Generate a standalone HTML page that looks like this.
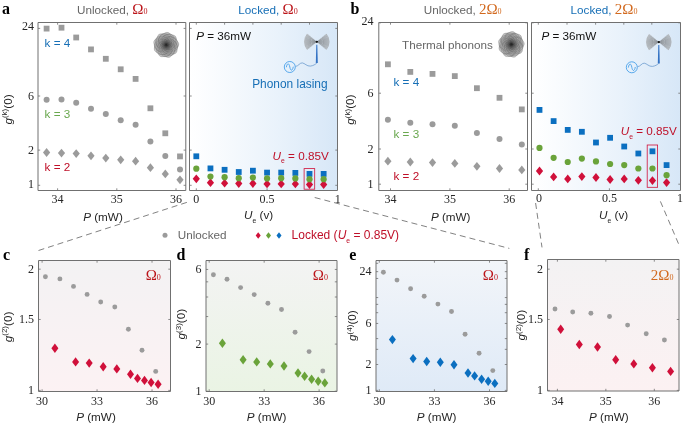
<!DOCTYPE html>
<html><head><meta charset="utf-8"><style>
html,body{margin:0;padding:0;background:#fff;width:685px;height:426px;overflow:hidden}
svg{display:block;will-change:transform}
</style></head><body>
<svg width="685" height="426" viewBox="0 0 685 426">
<defs>
<linearGradient id="gL" x1="0" y1="0" x2="1" y2="0"><stop offset="0" stop-color="#ffffff"/><stop offset="0.15" stop-color="#fafcfe"/><stop offset="0.6" stop-color="#e9f2fb"/><stop offset="1" stop-color="#d7e7f7"/></linearGradient>
<linearGradient id="gC" x1="0" y1="0" x2="0" y2="1"><stop offset="0" stop-color="#f3f2f3"/><stop offset="1" stop-color="#fcf2f3"/></linearGradient>
<linearGradient id="gD" x1="0" y1="0" x2="0" y2="1"><stop offset="0" stop-color="#f3f3f3"/><stop offset="1" stop-color="#eaf4e4"/></linearGradient>
<linearGradient id="gE" x1="0" y1="0" x2="0" y2="1"><stop offset="0" stop-color="#f2f5f9"/><stop offset="1" stop-color="#dfeaf7"/></linearGradient>
<linearGradient id="gF" x1="0" y1="0" x2="0" y2="1"><stop offset="0" stop-color="#f3f2f3"/><stop offset="1" stop-color="#fcf1f2"/></linearGradient>
</defs>
<rect width="685" height="426" fill="#fff"/>
<line x1="38.5" y1="250.5" x2="188" y2="202" stroke="#6a6a6a" stroke-width="0.85" stroke-dasharray="6,4"/>
<line x1="314.7" y1="197.5" x2="509.3" y2="248.4" stroke="#6a6a6a" stroke-width="0.85" stroke-dasharray="6,4"/>
<line x1="535.6" y1="203" x2="542" y2="247.4" stroke="#6a6a6a" stroke-width="0.85" stroke-dasharray="6,4"/>
<line x1="660.4" y1="201.4" x2="679.4" y2="245.8" stroke="#6a6a6a" stroke-width="0.85" stroke-dasharray="6,4"/>
<path d="M38.0 22.5H185.8V190.5H38.0Z" fill="none" stroke="#707070" stroke-width="1"/>
<path d="M38.0 185.30h2.2M185.8 185.30h-2.2" stroke="#707070" stroke-width="0.8"/>
<path d="M38.0 150.10h2.2M185.8 150.10h-2.2" stroke="#707070" stroke-width="0.8"/>
<path d="M38.0 96.00h2.2M185.8 96.00h-2.2" stroke="#707070" stroke-width="0.8"/>
<path d="M38.0 28.40h2.2M185.8 28.40h-2.2" stroke="#707070" stroke-width="0.8"/>
<path d="M57.60 190.5v-2.2" stroke="#707070" stroke-width="0.8"/>
<path d="M116.80 190.5v-2.2" stroke="#707070" stroke-width="0.8"/>
<path d="M176.00 190.5v-2.2" stroke="#707070" stroke-width="0.8"/>
<path d="M57.60 22.5v2.2" stroke="#707070" stroke-width="0.8"/>
<path d="M116.80 22.5v2.2" stroke="#707070" stroke-width="0.8"/>
<path d="M176.00 22.5v2.2" stroke="#707070" stroke-width="0.8"/>
<radialGradient id="th166" cx="0.5" cy="0.5" r="0.5"><stop offset="0" stop-color="#2a2a2a"/><stop offset="0.2" stop-color="#606060"/><stop offset="0.5" stop-color="#9a9a9a"/><stop offset="0.85" stop-color="#b4b4b4"/><stop offset="1" stop-color="#d0d0d0"/></radialGradient>
<polygon points="179.06,45.00 178.85,45.84 178.49,46.63 178.08,47.38 177.73,48.12 177.47,48.86 177.32,49.65 177.23,50.49 177.09,51.35 176.84,52.18 176.41,52.91 175.81,53.51 175.07,53.97 174.28,54.32 173.49,54.63 172.77,54.99 172.12,55.43 171.51,55.96 170.88,56.55 170.21,57.10 169.46,57.52 168.63,57.74 167.78,57.74 166.92,57.57 166.10,57.31 165.31,57.06 164.53,56.90 163.74,56.85 162.91,56.89 162.05,56.93 161.18,56.88 160.35,56.65 159.62,56.22 159.00,55.62 158.49,54.91 158.04,54.19 157.59,53.51 157.07,52.92 156.46,52.40 155.78,51.89 155.11,51.35 154.51,50.71 154.09,49.97 153.87,49.15 153.84,48.28 153.94,47.42 154.06,46.59 154.12,45.79 154.06,45.00 153.90,44.20 153.70,43.37 153.56,42.51 153.58,41.64 153.80,40.82 154.23,40.08 154.80,39.43 155.44,38.85 156.05,38.29 156.58,37.69 157.01,37.03 157.39,36.29 157.79,35.53 158.27,34.80 158.88,34.20 159.62,33.78 160.45,33.54 161.32,33.45 162.17,33.43 162.98,33.37 163.76,33.22 164.51,32.95 165.29,32.62 166.10,32.31 166.94,32.11 167.80,32.11 168.62,32.33 169.38,32.74 170.09,33.26 170.75,33.78 171.41,34.23 172.12,34.57 172.89,34.84 173.71,35.08 174.53,35.39 175.27,35.83 175.87,36.44 176.30,37.18 176.57,38.00 176.76,38.85 176.94,39.66 177.19,40.41 177.54,41.11 177.99,41.81 178.46,42.54 178.85,43.32 179.06,44.15 179.06,45.00" fill="url(#th166)"/>
<polygon points="166.94,45.00 166.94,45.07 166.91,45.14 166.87,45.21 166.82,45.26 166.80,45.32 166.78,45.39 166.77,45.47 166.75,45.54 166.70,45.60 166.63,45.63 166.55,45.65 166.49,45.67 166.42,45.70 166.37,45.74 166.31,45.79 166.25,45.83 166.17,45.84 166.10,45.82 166.03,45.79 165.97,45.76 165.90,45.74 165.83,45.74 165.75,45.74 165.68,45.73 165.62,45.69 165.57,45.63 165.54,45.56 165.51,45.50 165.47,45.44 165.42,45.39 165.36,45.35 165.31,45.29 165.28,45.22 165.29,45.14 165.31,45.07 165.33,45.00 165.33,44.93 165.32,44.86 165.31,44.79 165.31,44.71 165.33,44.64 165.39,44.59 165.45,44.55 165.51,44.50 165.56,44.46 165.59,44.40 165.63,44.33 165.68,44.27 165.74,44.23 165.82,44.23 165.89,44.23 165.97,44.24 166.03,44.23 166.10,44.21 166.17,44.18 166.25,44.17 166.32,44.18 166.38,44.23 166.44,44.28 166.49,44.33 166.54,44.37 166.61,44.40 166.68,44.42 166.75,44.46 166.79,44.52 166.81,44.59 166.82,44.66 166.82,44.74 166.84,44.80 166.88,44.86 166.92,44.93 166.94,45.00" fill="none" stroke="#222" stroke-opacity="0.4" stroke-width="0.4"/>
<polygon points="167.66,45.00 167.63,45.13 167.63,45.27 167.65,45.41 167.66,45.57 167.63,45.72 167.55,45.84 167.43,45.93 167.30,46.01 167.18,46.08 167.10,46.19 167.02,46.31 166.93,46.44 166.82,46.53 166.67,46.58 166.52,46.57 166.37,46.54 166.23,46.53 166.10,46.55 165.96,46.60 165.81,46.64 165.66,46.64 165.53,46.58 165.41,46.47 165.32,46.35 165.22,46.26 165.10,46.19 164.97,46.13 164.83,46.07 164.71,45.97 164.65,45.84 164.63,45.69 164.63,45.54 164.62,45.40 164.57,45.27 164.50,45.14 164.44,45.00 164.41,44.85 164.45,44.71 164.53,44.58 164.63,44.46 164.71,44.35 164.76,44.23 164.79,44.08 164.83,43.93 164.90,43.80 165.02,43.72 165.17,43.67 165.32,43.65 165.45,43.61 165.57,43.54 165.69,43.45 165.81,43.36 165.95,43.31 166.10,43.32 166.24,43.38 166.37,43.46 166.50,43.52 166.63,43.54 166.78,43.55 166.93,43.56 167.07,43.61 167.18,43.72 167.25,43.85 167.30,43.99 167.36,44.12 167.44,44.23 167.55,44.32 167.66,44.43 167.74,44.56 167.75,44.71 167.72,44.86 167.66,45.00" fill="none" stroke="#222" stroke-opacity="0.4" stroke-width="0.4"/>
<polygon points="168.57,45.00 168.47,45.21 168.38,45.40 168.33,45.60 168.32,45.81 168.33,46.04 168.29,46.26 168.18,46.45 167.99,46.59 167.78,46.68 167.59,46.77 167.42,46.89 167.28,47.05 167.14,47.23 166.96,47.38 166.76,47.45 166.53,47.43 166.31,47.37 166.10,47.31 165.90,47.30 165.69,47.33 165.46,47.37 165.24,47.38 165.03,47.30 164.86,47.14 164.73,46.95 164.61,46.77 164.47,46.63 164.29,46.52 164.09,46.41 163.91,46.26 163.80,46.07 163.78,45.85 163.80,45.62 163.82,45.40 163.80,45.20 163.73,45.00 163.65,44.79 163.61,44.56 163.65,44.34 163.78,44.15 163.94,43.99 164.10,43.84 164.21,43.68 164.29,43.48 164.36,43.26 164.47,43.06 164.65,42.92 164.86,42.86 165.09,42.84 165.31,42.83 165.50,42.77 165.69,42.67 165.89,42.55 166.10,42.47 166.32,42.48 166.53,42.57 166.72,42.70 166.89,42.83 167.07,42.91 167.28,42.95 167.51,42.99 167.73,43.06 167.89,43.21 167.99,43.41 168.05,43.63 168.10,43.84 168.19,44.03 168.32,44.19 168.47,44.36 168.59,44.56 168.62,44.78 168.57,45.00" fill="none" stroke="#222" stroke-opacity="0.4" stroke-width="0.4"/>
<polygon points="169.47,45.00 169.36,45.29 169.20,45.55 169.07,45.80 169.00,46.05 168.98,46.34 168.96,46.65 168.87,46.94 168.68,47.17 168.42,47.32 168.13,47.41 167.86,47.52 167.64,47.67 167.44,47.88 167.23,48.10 166.97,48.26 166.68,48.32 166.39,48.26 166.10,48.15 165.83,48.06 165.56,48.04 165.28,48.07 164.97,48.10 164.67,48.06 164.42,47.92 164.22,47.68 164.07,47.41 163.93,47.17 163.74,46.98 163.50,46.82 163.24,46.65 163.04,46.43 162.93,46.15 162.94,45.85 163.00,45.55 163.04,45.27 163.02,45.00 162.93,44.72 162.85,44.43 162.84,44.13 162.93,43.85 163.13,43.62 163.37,43.42 163.58,43.24 163.74,43.02 163.85,42.75 163.98,42.47 164.16,42.23 164.42,42.08 164.72,42.03 165.02,42.04 165.30,42.03 165.56,41.96 165.82,41.83 166.10,41.70 166.39,41.63 166.68,41.68 166.95,41.84 167.18,42.04 167.40,42.22 167.64,42.33 167.92,42.40 168.22,42.47 168.49,42.61 168.68,42.83 168.78,43.12 168.83,43.42 168.88,43.70 169.00,43.95 169.17,44.18 169.35,44.43 169.47,44.71 169.47,45.00" fill="none" stroke="#222" stroke-opacity="0.4" stroke-width="0.4"/>
<polygon points="170.18,45.00 170.29,45.37 170.26,45.73 170.10,46.07 169.85,46.36 169.60,46.63 169.42,46.92 169.31,47.25 169.22,47.62 169.07,47.97 168.82,48.24 168.47,48.39 168.09,48.45 167.73,48.50 167.41,48.60 167.12,48.79 166.81,49.01 166.47,49.19 166.10,49.23 165.74,49.12 165.41,48.93 165.10,48.73 164.79,48.60 164.44,48.56 164.06,48.53 163.69,48.44 163.38,48.24 163.17,47.93 163.04,47.56 162.94,47.22 162.78,46.92 162.54,46.66 162.27,46.39 162.04,46.09 161.94,45.73 161.98,45.36 162.11,45.00 162.25,44.66 162.32,44.33 162.31,43.98 162.27,43.61 162.29,43.22 162.44,42.89 162.71,42.63 163.04,42.44 163.37,42.27 163.63,42.06 163.85,41.79 164.06,41.47 164.32,41.19 164.65,41.03 165.03,41.00 165.41,41.07 165.76,41.15 166.10,41.16 166.44,41.09 166.81,40.99 167.19,40.94 167.55,41.03 167.85,41.25 168.09,41.55 168.32,41.84 168.57,42.06 168.87,42.23 169.22,42.38 169.54,42.59 169.76,42.89 169.85,43.25 169.85,43.64 169.83,44.00 169.88,44.33 170.01,44.66 170.18,45.00" fill="none" stroke="#222" stroke-opacity="0.4" stroke-width="0.4"/>
<polygon points="170.70,45.00 170.74,45.41 170.86,45.84 170.93,46.29 170.87,46.74 170.65,47.12 170.30,47.42 169.93,47.68 169.62,47.95 169.40,48.30 169.20,48.70 168.97,49.10 168.64,49.40 168.22,49.55 167.76,49.56 167.31,49.52 166.90,49.53 166.51,49.64 166.10,49.83 165.66,49.98 165.22,50.00 164.80,49.85 164.44,49.56 164.12,49.24 163.80,48.98 163.43,48.82 163.00,48.70 162.56,48.54 162.21,48.27 161.99,47.88 161.90,47.42 161.86,46.98 161.78,46.57 161.60,46.21 161.34,45.84 161.12,45.44 161.02,45.00 161.10,44.56 161.32,44.16 161.58,43.79 161.78,43.43 161.88,43.03 161.92,42.59 162.00,42.13 162.21,41.73 162.55,41.45 162.98,41.29 163.42,41.17 163.80,41.02 164.13,40.78 164.45,40.46 164.81,40.17 165.22,40.00 165.66,40.00 166.10,40.15 166.51,40.34 166.90,40.47 167.31,40.50 167.75,40.46 168.21,40.47 168.64,40.60 168.98,40.89 169.22,41.29 169.41,41.69 169.62,42.05 169.92,42.33 170.28,42.59 170.63,42.89 170.87,43.26 170.95,43.70 170.88,44.16 170.76,44.59 170.70,45.00" fill="none" stroke="#222" stroke-opacity="0.4" stroke-width="0.4"/>
<polygon points="171.64,45.00 171.84,45.50 171.92,46.03 171.80,46.53 171.50,46.97 171.11,47.34 170.76,47.69 170.51,48.09 170.35,48.56 170.17,49.07 169.90,49.53 169.49,49.84 168.97,49.98 168.44,50.01 167.94,50.06 167.49,50.20 167.06,50.46 166.60,50.74 166.10,50.91 165.59,50.88 165.10,50.66 164.67,50.34 164.26,50.06 163.82,49.88 163.33,49.80 162.80,49.72 162.30,49.53 161.93,49.17 161.70,48.69 161.57,48.17 161.44,47.69 161.22,47.28 160.89,46.90 160.54,46.49 160.28,46.03 160.22,45.51 160.35,45.00 160.59,44.52 160.80,44.07 160.90,43.61 160.89,43.10 160.88,42.57 160.98,42.05 161.26,41.61 161.70,41.31 162.19,41.09 162.64,40.88 163.01,40.59 163.33,40.20 163.67,39.78 164.08,39.45 164.57,39.30 165.10,39.34 165.62,39.49 166.10,39.62 166.57,39.63 167.06,39.54 167.59,39.44 168.12,39.45 168.59,39.65 168.97,40.02 169.27,40.47 169.56,40.88 169.91,41.19 170.35,41.44 170.82,41.70 171.22,42.05 171.45,42.51 171.50,43.03 171.44,43.57 171.40,44.07 171.47,44.53 171.64,45.00" fill="none" stroke="#222" stroke-opacity="0.4" stroke-width="0.4"/>
<polygon points="172.86,45.00 172.69,45.58 172.38,46.11 172.06,46.60 171.87,47.10 171.80,47.66 171.76,48.27 171.61,48.86 171.28,49.35 170.78,49.68 170.20,49.88 169.64,50.06 169.17,50.32 168.76,50.70 168.33,51.14 167.84,51.50 167.27,51.66 166.68,51.59 166.10,51.37 165.56,51.15 165.03,51.05 164.47,51.07 163.87,51.14 163.26,51.10 162.72,50.86 162.31,50.42 162.00,49.88 161.73,49.37 161.40,48.95 160.95,48.61 160.44,48.27 160.00,47.84 159.74,47.31 159.71,46.71 159.82,46.11 159.95,45.54 159.96,45.00 159.84,44.45 159.67,43.87 159.60,43.26 159.74,42.69 160.10,42.20 160.58,41.81 161.04,41.46 161.40,41.05 161.65,40.55 161.90,40.00 162.24,39.49 162.72,39.14 163.30,39.00 163.92,39.01 164.50,39.04 165.03,38.95 165.55,38.74 166.10,38.47 166.69,38.30 167.27,38.34 167.81,38.61 168.28,39.01 168.71,39.40 169.17,39.68 169.71,39.85 170.30,40.00 170.86,40.24 171.28,40.65 171.52,41.21 171.62,41.81 171.70,42.39 171.87,42.90 172.17,43.37 172.53,43.87 172.80,44.41 172.86,45.00" fill="none" stroke="#222" stroke-opacity="0.4" stroke-width="0.4"/>
<polygon points="173.01,45.00 173.17,45.62 173.36,46.28 173.42,46.96 173.24,47.60 172.83,48.14 172.29,48.57 171.78,48.98 171.40,49.44 171.12,50.02 170.84,50.65 170.45,51.21 169.90,51.58 169.24,51.73 168.54,51.71 167.89,51.70 167.30,51.81 166.72,52.07 166.10,52.37 165.44,52.55 164.78,52.49 164.18,52.17 163.66,51.71 163.17,51.28 162.64,50.99 162.03,50.81 161.36,50.65 160.74,50.36 160.28,49.89 160.02,49.26 159.91,48.57 159.82,47.93 159.60,47.36 159.25,46.84 158.84,46.28 158.55,45.66 158.50,45.00 158.71,44.35 159.06,43.76 159.40,43.21 159.60,42.64 159.67,42.00 159.72,41.31 159.89,40.65 160.28,40.11 160.85,39.75 161.51,39.53 162.12,39.32 162.64,39.01 163.10,38.57 163.58,38.07 164.14,37.68 164.78,37.51 165.45,37.61 166.10,37.86 166.70,38.09 167.30,38.19 167.94,38.15 168.62,38.07 169.30,38.13 169.90,38.42 170.36,38.92 170.69,39.53 171.00,40.10 171.40,40.56 171.91,40.93 172.48,41.31 172.97,41.80 173.24,42.40 173.27,43.08 173.14,43.76 173.01,44.40 173.01,45.00" fill="none" stroke="#222" stroke-opacity="0.4" stroke-width="0.4"/>
<polygon points="174.00,45.00 174.28,45.72 174.41,46.46 174.25,47.18 173.83,47.81 173.28,48.35 172.76,48.85 172.40,49.41 172.15,50.08 171.91,50.81 171.52,51.46 170.94,51.91 170.21,52.12 169.45,52.18 168.73,52.23 168.09,52.43 167.47,52.78 166.82,53.18 166.10,53.43 165.36,53.41 164.67,53.10 164.05,52.65 163.47,52.23 162.85,51.97 162.15,51.84 161.39,51.73 160.68,51.46 160.13,50.97 159.80,50.29 159.61,49.54 159.44,48.85 159.13,48.25 158.67,47.70 158.17,47.13 157.79,46.46 157.69,45.74 157.87,45.00 158.21,44.31 158.52,43.66 158.67,43.01 158.67,42.30 158.66,41.53 158.80,40.78 159.19,40.16 159.80,39.71 160.50,39.40 161.15,39.11 161.69,38.70 162.15,38.16 162.63,37.56 163.22,37.07 163.92,36.85 164.67,36.90 165.41,37.11 166.10,37.31 166.77,37.34 167.47,37.22 168.23,37.07 168.98,37.07 169.67,37.35 170.21,37.88 170.64,38.51 171.05,39.11 171.54,39.56 172.15,39.92 172.83,40.29 173.40,40.78 173.75,41.43 173.83,42.19 173.75,42.95 173.68,43.66 173.76,44.33 174.00,45.00" fill="none" stroke="#222" stroke-opacity="0.4" stroke-width="0.4"/>
<polygon points="174.53,45.00 174.60,45.74 174.80,46.53 174.94,47.37 174.85,48.19 174.45,48.89 173.82,49.46 173.14,49.93 172.56,50.42 172.13,51.03 171.78,51.76 171.35,52.50 170.76,53.06 169.99,53.35 169.15,53.38 168.32,53.30 167.56,53.30 166.84,53.50 166.10,53.83 165.30,54.12 164.48,54.17 163.72,53.90 163.05,53.38 162.47,52.78 161.89,52.30 161.21,51.99 160.42,51.76 159.63,51.47 158.97,50.99 158.55,50.28 158.38,49.46 158.32,48.63 158.18,47.88 157.86,47.21 157.40,46.53 156.98,45.80 156.79,45.00 156.92,44.20 157.32,43.45 157.80,42.78 158.18,42.12 158.37,41.40 158.45,40.59 158.60,39.75 158.97,39.01 159.59,38.49 160.37,38.17 161.17,37.96 161.89,37.70 162.50,37.27 163.08,36.70 163.73,36.16 164.48,35.83 165.30,35.82 166.10,36.09 166.85,36.44 167.56,36.70 168.31,36.76 169.12,36.70 169.97,36.70 170.76,36.94 171.38,37.45 171.83,38.17 172.17,38.93 172.56,39.58 173.09,40.11 173.75,40.59 174.40,41.13 174.85,41.81 175.00,42.62 174.88,43.45 174.66,44.25 174.53,45.00" fill="none" stroke="#222" stroke-opacity="0.4" stroke-width="0.4"/>
<polygon points="175.78,45.00 175.40,45.81 175.15,46.60 175.12,47.42 175.19,48.31 175.18,49.23 174.90,50.08 174.31,50.75 173.52,51.22 172.70,51.60 172.01,52.04 171.45,52.65 170.94,53.38 170.33,54.08 169.58,54.55 168.69,54.68 167.78,54.53 166.91,54.30 166.10,54.19 165.29,54.30 164.42,54.53 163.51,54.68 162.62,54.55 161.86,54.08 161.26,53.38 160.74,52.65 160.19,52.04 159.50,51.60 158.69,51.22 157.89,50.75 157.30,50.08 157.02,49.24 157.00,48.31 157.08,47.42 157.05,46.60 156.80,45.81 156.43,45.00 156.12,44.13 156.09,43.24 156.42,42.41 157.00,41.69 157.64,41.05 158.14,40.40 158.45,39.65 158.69,38.78 159.02,37.92 159.57,37.22 160.35,36.79 161.26,36.62 162.15,36.54 162.96,36.36 163.68,35.98 164.42,35.47 165.23,35.02 166.10,34.84 166.97,35.02 167.78,35.47 168.52,35.98 169.24,36.36 170.04,36.54 170.94,36.62 171.85,36.79 172.63,37.22 173.19,37.91 173.52,38.78 173.75,39.64 174.06,40.40 174.56,41.06 175.19,41.69 175.78,42.41 176.11,43.24 176.08,44.13 175.78,45.00" fill="none" stroke="#222" stroke-opacity="0.4" stroke-width="0.4"/>
<polygon points="176.88,45.00 177.06,45.96 176.85,46.90 176.32,47.74 175.67,48.48 175.13,49.21 174.81,50.03 174.61,50.96 174.36,51.93 173.88,52.78 173.12,53.36 172.17,53.67 171.19,53.82 170.31,54.03 169.54,54.45 168.79,55.04 167.97,55.62 167.06,55.96 166.10,55.92 165.18,55.54 164.33,55.03 163.52,54.63 162.66,54.45 161.71,54.42 160.71,54.34 159.79,54.01 159.08,53.36 158.62,52.48 158.30,51.55 157.93,50.72 157.39,50.03 156.68,49.39 155.97,48.69 155.48,47.85 155.35,46.90 155.56,45.92 155.91,45.00 156.17,44.13 156.20,43.25 156.06,42.31 155.97,41.31 156.13,40.35 156.65,39.54 157.43,38.93 158.30,38.45 159.05,37.95 159.64,37.30 160.14,36.49 160.71,35.66 161.45,35.03 162.37,34.74 163.36,34.78 164.33,34.97 165.23,35.07 166.10,34.95 167.01,34.65 167.97,34.38 168.95,34.38 169.83,34.74 170.57,35.41 171.19,36.18 171.82,36.83 172.56,37.30 173.45,37.65 174.36,38.07 175.11,38.69 175.55,39.54 175.69,40.53 175.67,41.52 175.73,42.42 176.00,43.25 176.45,44.09 176.88,45.00" fill="none" stroke="#222" stroke-opacity="0.4" stroke-width="0.4"/>
<polygon points="176.87,45.00 177.13,45.97 177.43,47.00 177.51,48.06 177.20,49.04 176.53,49.86 175.69,50.54 174.92,51.18 174.35,51.92 173.93,52.83 173.50,53.81 172.88,54.68 172.01,55.23 170.96,55.43 169.89,55.41 168.89,55.40 167.97,55.61 167.07,56.03 166.10,56.51 165.07,56.77 164.05,56.63 163.12,56.11 162.31,55.41 161.55,54.76 160.72,54.33 159.75,54.07 158.70,53.81 157.75,53.35 157.05,52.59 156.68,51.60 156.51,50.54 156.34,49.55 155.98,48.68 155.40,47.87 154.77,47.00 154.33,46.03 154.29,45.00 154.64,44.00 155.19,43.08 155.70,42.21 155.98,41.32 156.06,40.32 156.13,39.25 156.42,38.22 157.05,37.41 157.96,36.86 158.98,36.52 159.92,36.18 160.72,35.67 161.42,34.96 162.16,34.19 163.04,33.59 164.05,33.37 165.10,33.54 166.10,33.93 167.04,34.27 167.97,34.39 168.97,34.30 170.04,34.19 171.09,34.29 172.01,34.77 172.70,35.58 173.22,36.52 173.71,37.39 174.35,38.08 175.17,38.65 176.07,39.25 176.81,40.01 177.20,40.96 177.21,42.02 177.01,43.08 176.83,44.06 176.87,45.00" fill="none" stroke="#222" stroke-opacity="0.4" stroke-width="0.4"/>
<polygon points="178.59,45.00 178.11,46.05 177.56,47.02 177.20,47.97 177.09,49.00 177.10,50.13 176.97,51.28 176.50,52.28 175.67,53.03 174.62,53.52 173.58,53.92 172.69,54.41 171.95,55.13 171.23,56.00 170.39,56.80 169.39,57.27 168.27,57.30 167.15,57.01 166.10,56.64 165.10,56.45 164.07,56.52 162.96,56.73 161.81,56.80 160.73,56.51 159.85,55.82 159.19,54.87 158.62,53.92 157.97,53.13 157.14,52.52 156.16,51.96 155.23,51.28 154.59,50.37 154.36,49.27 154.46,48.12 154.64,47.02 154.65,46.00 154.40,45.00 154.01,43.94 153.74,42.82 153.83,41.71 154.36,40.73 155.18,39.91 156.02,39.18 156.69,38.41 157.14,37.48 157.52,36.42 158.03,35.38 158.82,34.60 159.85,34.18 161.01,34.08 162.12,34.06 163.13,33.90 164.07,33.48 165.04,32.91 166.10,32.45 167.21,32.35 168.27,32.70 169.22,33.36 170.08,34.06 170.96,34.58 171.95,34.87 173.06,35.06 174.17,35.38 175.08,36.02 175.67,36.97 175.97,38.09 176.18,39.18 176.52,40.14 177.09,41.00 177.83,41.86 178.46,42.82 178.75,43.89 178.59,45.00" fill="none" stroke="#222" stroke-opacity="0.4" stroke-width="0.4"/>
<rect x="43.70" y="25.70" width="5.8" height="5.8" fill="#9b9b9b"/>
<rect x="58.60" y="24.80" width="5.8" height="5.8" fill="#9b9b9b"/>
<rect x="73.30" y="34.60" width="5.8" height="5.8" fill="#9b9b9b"/>
<rect x="88.10" y="46.50" width="5.8" height="5.8" fill="#9b9b9b"/>
<rect x="102.90" y="55.90" width="5.8" height="5.8" fill="#9b9b9b"/>
<rect x="117.80" y="66.40" width="5.8" height="5.8" fill="#9b9b9b"/>
<rect x="132.70" y="76.00" width="5.8" height="5.8" fill="#9b9b9b"/>
<rect x="147.50" y="105.40" width="5.8" height="5.8" fill="#9b9b9b"/>
<rect x="162.40" y="130.40" width="5.8" height="5.8" fill="#9b9b9b"/>
<rect x="177.10" y="153.50" width="5.8" height="5.8" fill="#9b9b9b"/>
<circle cx="46.60" cy="99.70" r="3.0" fill="#9b9b9b"/>
<circle cx="61.50" cy="99.40" r="3.0" fill="#9b9b9b"/>
<circle cx="76.20" cy="102.70" r="3.0" fill="#9b9b9b"/>
<circle cx="91.00" cy="108.70" r="3.0" fill="#9b9b9b"/>
<circle cx="105.80" cy="114.10" r="3.0" fill="#9b9b9b"/>
<circle cx="120.70" cy="120.30" r="3.0" fill="#9b9b9b"/>
<circle cx="135.60" cy="124.80" r="3.0" fill="#9b9b9b"/>
<circle cx="150.40" cy="141.40" r="3.0" fill="#9b9b9b"/>
<circle cx="165.30" cy="156.10" r="3.0" fill="#9b9b9b"/>
<circle cx="180.00" cy="169.60" r="3.0" fill="#9b9b9b"/>
<path d="M46.60 148.10L50.20 152.50L46.60 156.90L43.00 152.50Z" fill="#9b9b9b"/>
<path d="M61.50 148.70L65.10 153.10L61.50 157.50L57.90 153.10Z" fill="#9b9b9b"/>
<path d="M76.20 149.20L79.80 153.60L76.20 158.00L72.60 153.60Z" fill="#9b9b9b"/>
<path d="M91.00 151.40L94.60 155.80L91.00 160.20L87.40 155.80Z" fill="#9b9b9b"/>
<path d="M105.80 153.70L109.40 158.10L105.80 162.50L102.20 158.10Z" fill="#9b9b9b"/>
<path d="M120.70 155.40L124.30 159.80L120.70 164.20L117.10 159.80Z" fill="#9b9b9b"/>
<path d="M135.60 156.80L139.20 161.20L135.60 165.60L132.00 161.20Z" fill="#9b9b9b"/>
<path d="M150.40 163.30L154.00 167.70L150.40 172.10L146.80 167.70Z" fill="#9b9b9b"/>
<path d="M165.30 169.50L168.90 173.90L165.30 178.30L161.70 173.90Z" fill="#9b9b9b"/>
<path d="M180.00 175.40L183.60 179.80L180.00 184.20L176.40 179.80Z" fill="#9b9b9b"/>
<text x="44.6" y="47" font-family='"Liberation Sans", sans-serif' font-size="11.7" fill="#176fb6" text-anchor="start" >k = 4</text>
<text x="44.6" y="117.5" font-family='"Liberation Sans", sans-serif' font-size="11.7" fill="#6aa84f" text-anchor="start" >k = 3</text>
<text x="44.6" y="171.3" font-family='"Liberation Sans", sans-serif' font-size="11.7" fill="#bf1029" text-anchor="start" >k = 2</text>
<text x="34" y="187.75" font-family='"Liberation Serif", serif' font-size="12" fill="#262626" text-anchor="end" >1</text>
<text x="34" y="153.64999999999998" font-family='"Liberation Serif", serif' font-size="12" fill="#262626" text-anchor="end" >2</text>
<text x="34" y="99.85000000000001" font-family='"Liberation Serif", serif' font-size="12" fill="#262626" text-anchor="end" >6</text>
<text x="34" y="30.45" font-family='"Liberation Serif", serif' font-size="12" fill="#262626" text-anchor="end" >24</text>
<text x="57.6" y="202.7" font-family='"Liberation Serif", serif' font-size="12" fill="#262626" text-anchor="middle" >34</text>
<text x="116.8" y="202.7" font-family='"Liberation Serif", serif' font-size="12" fill="#262626" text-anchor="middle" >35</text>
<text x="176.0" y="202.7" font-family='"Liberation Serif", serif' font-size="12" fill="#262626" text-anchor="middle" >36</text>
<text x="103" y="220.8" font-family='"Liberation Sans", sans-serif' font-size="11.7" fill="#262626" text-anchor="middle" ><tspan font-style="italic">P</tspan> (mW)</text>
<text transform="translate(11.6 109.5) rotate(-90)" font-family='"Liberation Sans", sans-serif' font-size="11.7" fill="#262626" text-anchor="middle"><tspan font-style="italic">g</tspan><tspan font-size="8" dy="-4.2">(k)</tspan><tspan dy="4.2">(0)</tspan></text>
<text x="2" y="14" font-family='"Liberation Serif", serif' font-size="16" fill="#000" text-anchor="start" font-weight="bold">a</text>
<text x="77" y="13.8" font-family='"Liberation Sans", sans-serif' font-size="11.7" fill="#666666" text-anchor="start">Unlocked, <tspan font-family='"Liberation Serif", serif' fill="#bb1419" font-size="15">Ω</tspan><tspan font-family='"Liberation Serif", serif' fill="#bb1419" font-size="8">0</tspan></text>
<rect x="189.5" y="22.5" width="148.0" height="168.0" fill="url(#gL)"/>
<path d="M189.5 22.5H337.5V190.5H189.5Z" fill="none" stroke="#707070" stroke-width="1"/>
<path d="M189.5 185.30h2.2M337.5 185.30h-2.2" stroke="#707070" stroke-width="0.8"/>
<path d="M189.5 150.10h2.2M337.5 150.10h-2.2" stroke="#707070" stroke-width="0.8"/>
<path d="M189.5 96.00h2.2M337.5 96.00h-2.2" stroke="#707070" stroke-width="0.8"/>
<path d="M189.5 28.40h2.2M337.5 28.40h-2.2" stroke="#707070" stroke-width="0.8"/>
<path d="M196.30 190.5v-2.2" stroke="#707070" stroke-width="0.8"/>
<path d="M267.05 190.5v-2.2" stroke="#707070" stroke-width="0.8"/>
<path d="M196.30 22.5v2.2" stroke="#707070" stroke-width="0.8"/>
<path d="M224.60 22.5v2.2" stroke="#707070" stroke-width="0.8"/>
<path d="M252.90 22.5v2.2" stroke="#707070" stroke-width="0.8"/>
<path d="M281.20 22.5v2.2" stroke="#707070" stroke-width="0.8"/>
<path d="M309.50 22.5v2.2" stroke="#707070" stroke-width="0.8"/>
<radialGradient id="bw316" gradientUnits="userSpaceOnUse" cx="316.8" cy="41.8" r="13"><stop offset="0" stop-color="#333"/><stop offset="0.3" stop-color="#888"/><stop offset="0.7" stop-color="#b0b0b0"/><stop offset="1" stop-color="#d0d0d0"/></radialGradient>
<path d="M316.8 41.8L306.92 33.51A12.9 12.9 0 0 0 306.92 50.09Z" fill="url(#bw316)" fill-opacity="0.45"/>
<path d="M315.11 40.39A2.20 2.20 0 0 0 315.11 43.21" fill="none" stroke="#3a3a3a" stroke-opacity="0.55" stroke-width="0.42"/>
<path d="M314.35 39.74A3.20 3.20 0 0 0 314.35 43.86" fill="none" stroke="#3a3a3a" stroke-opacity="0.55" stroke-width="0.42"/>
<path d="M313.58 39.10A4.20 4.20 0 0 0 313.58 44.50" fill="none" stroke="#3a3a3a" stroke-opacity="0.55" stroke-width="0.42"/>
<path d="M312.82 38.46A5.20 5.20 0 0 0 312.82 45.14" fill="none" stroke="#3a3a3a" stroke-opacity="0.55" stroke-width="0.42"/>
<path d="M312.05 37.81A6.20 6.20 0 0 0 312.05 45.79" fill="none" stroke="#3a3a3a" stroke-opacity="0.55" stroke-width="0.42"/>
<path d="M311.28 37.17A7.20 7.20 0 0 0 311.28 46.43" fill="none" stroke="#3a3a3a" stroke-opacity="0.55" stroke-width="0.42"/>
<path d="M310.52 36.53A8.20 8.20 0 0 0 310.52 47.07" fill="none" stroke="#3a3a3a" stroke-opacity="0.55" stroke-width="0.42"/>
<path d="M309.75 35.89A9.20 9.20 0 0 0 309.75 47.71" fill="none" stroke="#3a3a3a" stroke-opacity="0.55" stroke-width="0.42"/>
<path d="M308.99 35.24A10.20 10.20 0 0 0 308.99 48.36" fill="none" stroke="#3a3a3a" stroke-opacity="0.55" stroke-width="0.42"/>
<path d="M308.22 34.60A11.20 11.20 0 0 0 308.22 49.00" fill="none" stroke="#3a3a3a" stroke-opacity="0.55" stroke-width="0.42"/>
<path d="M307.45 33.96A12.20 12.20 0 0 0 307.45 49.64" fill="none" stroke="#3a3a3a" stroke-opacity="0.55" stroke-width="0.42"/>
<path d="M316.8 41.8L326.68 33.51A12.9 12.9 0 0 1 326.68 50.09Z" fill="url(#bw316)" fill-opacity="0.45"/>
<path d="M318.49 40.39A2.20 2.20 0 0 1 318.49 43.21" fill="none" stroke="#3a3a3a" stroke-opacity="0.55" stroke-width="0.42"/>
<path d="M319.25 39.74A3.20 3.20 0 0 1 319.25 43.86" fill="none" stroke="#3a3a3a" stroke-opacity="0.55" stroke-width="0.42"/>
<path d="M320.02 39.10A4.20 4.20 0 0 1 320.02 44.50" fill="none" stroke="#3a3a3a" stroke-opacity="0.55" stroke-width="0.42"/>
<path d="M320.78 38.46A5.20 5.20 0 0 1 320.78 45.14" fill="none" stroke="#3a3a3a" stroke-opacity="0.55" stroke-width="0.42"/>
<path d="M321.55 37.81A6.20 6.20 0 0 1 321.55 45.79" fill="none" stroke="#3a3a3a" stroke-opacity="0.55" stroke-width="0.42"/>
<path d="M322.32 37.17A7.20 7.20 0 0 1 322.32 46.43" fill="none" stroke="#3a3a3a" stroke-opacity="0.55" stroke-width="0.42"/>
<path d="M323.08 36.53A8.20 8.20 0 0 1 323.08 47.07" fill="none" stroke="#3a3a3a" stroke-opacity="0.55" stroke-width="0.42"/>
<path d="M323.85 35.89A9.20 9.20 0 0 1 323.85 47.71" fill="none" stroke="#3a3a3a" stroke-opacity="0.55" stroke-width="0.42"/>
<path d="M324.61 35.24A10.20 10.20 0 0 1 324.61 48.36" fill="none" stroke="#3a3a3a" stroke-opacity="0.55" stroke-width="0.42"/>
<path d="M325.38 34.60A11.20 11.20 0 0 1 325.38 49.00" fill="none" stroke="#3a3a3a" stroke-opacity="0.55" stroke-width="0.42"/>
<path d="M326.15 33.96A12.20 12.20 0 0 1 326.15 49.64" fill="none" stroke="#3a3a3a" stroke-opacity="0.55" stroke-width="0.42"/>
<ellipse cx="316.8" cy="41.8" rx="1.3" ry="1.1" fill="#111"/>
<path d="M316.3 44.8L317.3 44.8L317.8 63.099999999999994L315.8 63.099999999999994Z" fill="#3372c4"/>
<path d="M295.6 66.4 C298.3 66.3 299.8 62.599999999999994 302.3 62.9 C304.8 63.199999999999996 306.8 66.4 310.3 66.1 C313.3 65.8 315.3 64.3 316.8 63.099999999999994" fill="none" stroke="#5a8fc8" stroke-width="0.7"/>
<circle cx="289.8" cy="67.0" r="5.5" fill="none" stroke="#48a0ea" stroke-width="0.9"/>
<path d="M286.3 67.3 C287.2 62.7 289.0 62.7 289.8 67.0 S292.40000000000003 71.3 293.3 66.7" fill="none" stroke="#48a0ea" stroke-width="0.9"/>
<rect x="193.40" y="153.40" width="5.8" height="5.8" fill="#0b6fc0"/>
<rect x="207.55" y="165.50" width="5.8" height="5.8" fill="#0b6fc0"/>
<rect x="221.70" y="166.90" width="5.8" height="5.8" fill="#0b6fc0"/>
<rect x="235.85" y="169.10" width="5.8" height="5.8" fill="#0b6fc0"/>
<rect x="250.00" y="167.80" width="5.8" height="5.8" fill="#0b6fc0"/>
<rect x="264.15" y="169.70" width="5.8" height="5.8" fill="#0b6fc0"/>
<rect x="278.30" y="169.70" width="5.8" height="5.8" fill="#0b6fc0"/>
<rect x="292.45" y="170.00" width="5.8" height="5.8" fill="#0b6fc0"/>
<rect x="306.60" y="171.00" width="5.8" height="5.8" fill="#0b6fc0"/>
<rect x="320.75" y="171.00" width="5.8" height="5.8" fill="#0b6fc0"/>
<path d="M196.30 174.40L199.90 178.80L196.30 183.20L192.70 178.80Z" fill="#d0103a"/>
<path d="M210.45 178.30L214.05 182.70L210.45 187.10L206.85 182.70Z" fill="#d0103a"/>
<path d="M224.60 178.80L228.20 183.20L224.60 187.60L221.00 183.20Z" fill="#d0103a"/>
<path d="M238.75 179.10L242.35 183.50L238.75 187.90L235.15 183.50Z" fill="#d0103a"/>
<path d="M252.90 179.10L256.50 183.50L252.90 187.90L249.30 183.50Z" fill="#d0103a"/>
<path d="M267.05 179.50L270.65 183.90L267.05 188.30L263.45 183.90Z" fill="#d0103a"/>
<path d="M281.20 179.50L284.80 183.90L281.20 188.30L277.60 183.90Z" fill="#d0103a"/>
<path d="M295.35 179.50L298.95 183.90L295.35 188.30L291.75 183.90Z" fill="#d0103a"/>
<path d="M309.50 180.10L313.10 184.50L309.50 188.90L305.90 184.50Z" fill="#d0103a"/>
<path d="M323.65 180.10L327.25 184.50L323.65 188.90L320.05 184.50Z" fill="#d0103a"/>
<circle cx="196.30" cy="168.70" r="3.1" fill="#6aa33a"/>
<circle cx="210.45" cy="176.50" r="3.1" fill="#6aa33a"/>
<circle cx="224.60" cy="177.20" r="3.1" fill="#6aa33a"/>
<circle cx="238.75" cy="178.20" r="3.1" fill="#6aa33a"/>
<circle cx="252.90" cy="177.60" r="3.1" fill="#6aa33a"/>
<circle cx="267.05" cy="178.40" r="3.1" fill="#6aa33a"/>
<circle cx="281.20" cy="178.20" r="3.1" fill="#6aa33a"/>
<circle cx="295.35" cy="178.40" r="3.1" fill="#6aa33a"/>
<circle cx="309.50" cy="179.20" r="3.1" fill="#6aa33a"/>
<circle cx="323.65" cy="179.20" r="3.1" fill="#6aa33a"/>
<rect x="304.1" y="168.6" width="10.6" height="20.6" fill="none" stroke="#d0103a" stroke-width="0.8"/>
<text x="196.2" y="39.7" font-family='"Liberation Sans", sans-serif' font-size="11.7" fill="#111" text-anchor="start" ><tspan font-style="italic">P</tspan> = 36mW</text>
<text x="252.2" y="87.6" font-family='"Liberation Sans", sans-serif' font-size="11.9" fill="#176fb6" text-anchor="start" >Phonon lasing</text>
<text x="272.6" y="159.5" font-family='"Liberation Sans", sans-serif' font-size="11.7" fill="#bf1029" text-anchor="start"><tspan font-style="italic">U</tspan><tspan font-size="6.8" dy="3.6">e</tspan><tspan dy="-3.6"> = 0.85V</tspan></text>
<text x="196.3" y="202.7" font-family='"Liberation Serif", serif' font-size="12" fill="#262626" text-anchor="middle" >0</text>
<text x="267.05" y="202.7" font-family='"Liberation Serif", serif' font-size="12" fill="#262626" text-anchor="middle" >0.5</text>
<text x="337.8" y="202.7" font-family='"Liberation Serif", serif' font-size="12" fill="#262626" text-anchor="middle" >1</text>
<text x="258.6" y="218.9" font-family='"Liberation Sans", sans-serif' font-size="11.7" fill="#262626" text-anchor="middle"><tspan font-style="italic">U</tspan><tspan font-size="6.8" dy="3.6">e</tspan><tspan dy="-3.6"> (v)</tspan></text>
<text x="268" y="13.8" font-family='"Liberation Sans", sans-serif' font-size="11.7" fill="#176fb6" text-anchor="middle">Locked, <tspan font-family='"Liberation Serif", serif' fill="#bb1419" font-size="15">Ω</tspan><tspan font-family='"Liberation Serif", serif' fill="#bb1419" font-size="8">0</tspan></text>
<path d="M378.8 22.5H527.5V190.5H378.8Z" fill="none" stroke="#707070" stroke-width="1"/>
<path d="M378.8 184.20h2.2M527.5 184.20h-2.2" stroke="#707070" stroke-width="0.8"/>
<path d="M378.8 149.00h2.2M527.5 149.00h-2.2" stroke="#707070" stroke-width="0.8"/>
<path d="M378.8 93.21h2.2M527.5 93.21h-2.2" stroke="#707070" stroke-width="0.8"/>
<path d="M378.8 22.81h2.2M527.5 22.81h-2.2" stroke="#707070" stroke-width="0.8"/>
<path d="M390.50 190.5v-2.2" stroke="#707070" stroke-width="0.8"/>
<path d="M449.90 190.5v-2.2" stroke="#707070" stroke-width="0.8"/>
<path d="M509.20 190.5v-2.2" stroke="#707070" stroke-width="0.8"/>
<path d="M390.50 22.5v2.2" stroke="#707070" stroke-width="0.8"/>
<path d="M449.90 22.5v2.2" stroke="#707070" stroke-width="0.8"/>
<path d="M509.20 22.5v2.2" stroke="#707070" stroke-width="0.8"/>
<radialGradient id="th511" cx="0.5" cy="0.5" r="0.5"><stop offset="0" stop-color="#2a2a2a"/><stop offset="0.2" stop-color="#606060"/><stop offset="0.5" stop-color="#9a9a9a"/><stop offset="0.85" stop-color="#b4b4b4"/><stop offset="1" stop-color="#d0d0d0"/></radialGradient>
<polygon points="524.47,44.50 524.25,45.36 523.89,46.17 523.47,46.94 523.11,47.69 522.85,48.45 522.69,49.26 522.59,50.12 522.46,51.00 522.20,51.85 521.76,52.60 521.14,53.22 520.39,53.69 519.57,54.05 518.77,54.37 518.03,54.72 517.36,55.18 516.74,55.73 516.10,56.33 515.41,56.89 514.64,57.32 513.79,57.55 512.92,57.55 512.04,57.37 511.20,57.10 510.39,56.85 509.60,56.68 508.79,56.64 507.94,56.68 507.05,56.72 506.16,56.66 505.32,56.43 504.56,55.99 503.93,55.38 503.41,54.65 502.95,53.91 502.48,53.22 501.95,52.61 501.33,52.07 500.64,51.56 499.94,51.00 499.34,50.35 498.90,49.59 498.68,48.75 498.65,47.86 498.75,46.98 498.87,46.12 498.93,45.30 498.87,44.50 498.71,43.68 498.51,42.83 498.36,41.95 498.38,41.06 498.60,40.22 499.04,39.46 499.63,38.80 500.29,38.20 500.91,37.63 501.45,37.02 501.89,36.34 502.29,35.59 502.69,34.80 503.19,34.06 503.81,33.44 504.56,33.01 505.41,32.77 506.30,32.68 507.18,32.65 508.01,32.59 508.80,32.44 509.58,32.17 510.37,31.82 511.20,31.50 512.07,31.30 512.94,31.30 513.78,31.53 514.56,31.95 515.28,32.48 515.96,33.01 516.64,33.47 517.36,33.82 518.15,34.09 518.99,34.34 519.83,34.66 520.59,35.11 521.20,35.73 521.64,36.49 521.92,37.34 522.11,38.20 522.30,39.03 522.55,39.80 522.92,40.52 523.38,41.24 523.86,41.98 524.25,42.78 524.47,43.63 524.47,44.50" fill="url(#th511)"/>
<polygon points="512.05,44.50 512.06,44.58 512.04,44.65 512.00,44.71 511.95,44.77 511.91,44.83 511.89,44.90 511.87,44.97 511.85,45.05 511.81,45.11 511.75,45.16 511.68,45.18 511.60,45.19 511.53,45.21 511.47,45.25 511.41,45.29 511.35,45.34 511.28,45.36 511.20,45.36 511.13,45.33 511.06,45.29 511.00,45.26 510.93,45.25 510.85,45.24 510.77,45.24 510.70,45.21 510.65,45.16 510.61,45.09 510.59,45.01 510.56,44.95 510.51,44.90 510.46,44.85 510.40,44.79 510.36,44.72 510.36,44.65 510.37,44.57 510.40,44.50 510.42,44.43 510.42,44.36 510.41,44.29 510.40,44.21 510.41,44.13 510.46,44.07 510.52,44.02 510.59,43.99 510.65,43.95 510.69,43.89 510.73,43.83 510.77,43.76 510.83,43.71 510.91,43.69 510.99,43.70 511.06,43.71 511.13,43.72 511.20,43.71 511.27,43.68 511.35,43.66 511.42,43.66 511.49,43.69 511.55,43.75 511.60,43.81 511.65,43.86 511.71,43.89 511.78,43.92 511.85,43.95 511.91,44.00 511.94,44.07 511.95,44.15 511.95,44.23 511.96,44.30 511.98,44.36 512.02,44.43 512.05,44.50" fill="none" stroke="#222" stroke-opacity="0.4" stroke-width="0.4"/>
<polygon points="512.91,44.50 512.93,44.65 512.89,44.80 512.80,44.93 512.70,45.05 512.62,45.16 512.58,45.30 512.55,45.45 512.51,45.60 512.43,45.73 512.30,45.81 512.15,45.85 512.00,45.88 511.86,45.92 511.74,46.00 511.63,46.09 511.50,46.18 511.35,46.23 511.20,46.21 511.06,46.15 510.92,46.07 510.79,46.02 510.66,46.00 510.50,46.00 510.35,45.98 510.21,45.92 510.10,45.81 510.03,45.67 509.98,45.52 509.91,45.40 509.82,45.30 509.70,45.20 509.59,45.08 509.52,44.95 509.51,44.80 509.55,44.64 509.61,44.50 509.64,44.36 509.63,44.22 509.61,44.07 509.59,43.92 509.63,43.77 509.72,43.64 509.85,43.55 509.98,43.48 510.09,43.39 510.18,43.28 510.25,43.15 510.35,43.02 510.47,42.93 510.61,42.89 510.77,42.90 510.92,42.93 511.06,42.94 511.20,42.91 511.34,42.86 511.50,42.82 511.65,42.82 511.79,42.89 511.90,43.00 512.00,43.12 512.10,43.21 512.22,43.28 512.37,43.33 512.51,43.40 512.62,43.51 512.68,43.64 512.70,43.80 512.70,43.95 512.72,44.09 512.77,44.22 512.84,44.36 512.91,44.50" fill="none" stroke="#222" stroke-opacity="0.4" stroke-width="0.4"/>
<polygon points="513.80,44.50 513.76,44.72 513.64,44.93 513.51,45.12 513.41,45.30 513.36,45.51 513.34,45.74 513.30,45.97 513.19,46.17 513.02,46.32 512.80,46.40 512.57,46.46 512.38,46.54 512.21,46.66 512.05,46.82 511.86,46.97 511.65,47.06 511.42,47.06 511.20,46.98 510.99,46.88 510.79,46.82 510.58,46.80 510.35,46.82 510.12,46.82 509.90,46.75 509.73,46.60 509.60,46.40 509.51,46.19 509.40,46.01 509.25,45.87 509.06,45.74 508.88,45.58 508.76,45.39 508.72,45.16 508.76,44.93 508.82,44.71 508.85,44.50 508.82,44.29 508.77,44.07 508.73,43.84 508.76,43.61 508.87,43.41 509.05,43.26 509.24,43.13 509.40,42.99 509.51,42.81 509.61,42.61 509.73,42.40 509.90,42.25 510.11,42.17 510.35,42.17 510.58,42.19 510.79,42.18 510.99,42.12 511.20,42.03 511.42,41.95 511.65,41.94 511.86,42.02 512.05,42.17 512.21,42.33 512.38,42.46 512.57,42.55 512.79,42.61 513.01,42.69 513.19,42.83 513.30,43.03 513.35,43.26 513.37,43.49 513.41,43.70 513.50,43.88 513.63,44.07 513.75,44.28 513.80,44.50" fill="none" stroke="#222" stroke-opacity="0.4" stroke-width="0.4"/>
<polygon points="514.34,44.50 514.37,44.78 514.45,45.07 514.50,45.38 514.46,45.69 514.30,45.95 514.07,46.16 513.81,46.33 513.60,46.52 513.45,46.75 513.32,47.02 513.16,47.30 512.93,47.50 512.65,47.60 512.33,47.61 512.03,47.58 511.74,47.59 511.48,47.67 511.20,47.80 510.90,47.90 510.60,47.92 510.31,47.81 510.07,47.61 509.85,47.39 509.63,47.22 509.38,47.11 509.08,47.02 508.79,46.91 508.54,46.73 508.39,46.46 508.33,46.16 508.31,45.85 508.25,45.57 508.13,45.32 507.95,45.07 507.80,44.80 507.73,44.50 507.79,44.20 507.94,43.93 508.12,43.67 508.25,43.43 508.32,43.16 508.35,42.85 508.40,42.54 508.54,42.27 508.78,42.08 509.07,41.96 509.37,41.89 509.63,41.78 509.86,41.62 510.07,41.40 510.32,41.20 510.60,41.08 510.90,41.09 511.20,41.19 511.48,41.32 511.74,41.41 512.02,41.43 512.33,41.40 512.64,41.41 512.93,41.50 513.16,41.69 513.33,41.96 513.46,42.24 513.60,42.48 513.81,42.68 514.05,42.85 514.29,43.06 514.46,43.31 514.51,43.61 514.46,43.93 514.38,44.22 514.34,44.50" fill="none" stroke="#222" stroke-opacity="0.4" stroke-width="0.4"/>
<polygon points="515.53,44.50 515.49,44.88 515.32,45.23 515.09,45.54 514.89,45.84 514.78,46.17 514.73,46.54 514.67,46.93 514.52,47.28 514.24,47.54 513.89,47.70 513.51,47.80 513.16,47.90 512.87,48.08 512.60,48.33 512.30,48.59 511.95,48.76 511.58,48.79 511.20,48.68 510.85,48.51 510.52,48.37 510.18,48.32 509.80,48.33 509.41,48.34 509.04,48.25 508.73,48.03 508.51,47.70 508.36,47.34 508.19,47.03 507.96,46.77 507.67,46.54 507.36,46.29 507.13,45.98 507.04,45.61 507.08,45.23 507.19,44.85 507.27,44.50 507.26,44.16 507.18,43.79 507.11,43.40 507.13,43.02 507.30,42.68 507.58,42.41 507.90,42.19 508.19,41.97 508.41,41.71 508.58,41.38 508.77,41.03 509.04,40.75 509.38,40.60 509.77,40.57 510.16,40.61 510.52,40.63 510.86,40.56 511.20,40.42 511.57,40.28 511.95,40.24 512.31,40.34 512.63,40.57 512.90,40.85 513.16,41.10 513.47,41.26 513.82,41.38 514.19,41.51 514.52,41.72 514.73,42.03 514.82,42.41 514.85,42.80 514.89,43.16 515.02,43.48 515.22,43.79 515.42,44.13 515.53,44.50" fill="none" stroke="#222" stroke-opacity="0.4" stroke-width="0.4"/>
<polygon points="516.40,44.50 516.28,44.94 516.04,45.35 515.79,45.73 515.63,46.11 515.56,46.53 515.52,47.00 515.42,47.46 515.18,47.84 514.81,48.11 514.36,48.27 513.93,48.39 513.56,48.58 513.23,48.86 512.91,49.19 512.53,49.48 512.10,49.62 511.64,49.58 511.20,49.42 510.79,49.24 510.38,49.14 509.96,49.15 509.49,49.19 509.02,49.17 508.60,49.00 508.27,48.68 508.04,48.27 507.84,47.86 507.59,47.53 507.26,47.26 506.88,47.00 506.53,46.68 506.31,46.28 506.27,45.82 506.36,45.35 506.46,44.91 506.49,44.50 506.41,44.08 506.28,43.63 506.22,43.17 506.31,42.72 506.58,42.34 506.94,42.04 507.31,41.77 507.59,41.47 507.80,41.10 507.99,40.67 508.24,40.28 508.60,40.00 509.04,39.88 509.52,39.88 509.97,39.91 510.38,39.86 510.78,39.71 511.20,39.51 511.65,39.36 512.10,39.38 512.52,39.57 512.88,39.88 513.21,40.19 513.56,40.42 513.96,40.56 514.41,40.67 514.85,40.85 515.18,41.16 515.38,41.57 515.46,42.04 515.51,42.49 515.63,42.89 515.85,43.26 516.12,43.63 516.34,44.05 516.40,44.50" fill="none" stroke="#222" stroke-opacity="0.4" stroke-width="0.4"/>
<polygon points="516.74,44.50 516.90,45.00 517.05,45.53 517.06,46.07 516.86,46.56 516.49,46.97 516.07,47.31 515.70,47.65 515.44,48.06 515.25,48.55 515.02,49.05 514.68,49.47 514.21,49.71 513.67,49.79 513.12,49.78 512.62,49.81 512.16,49.96 511.70,50.20 511.20,50.44 510.67,50.54 510.15,50.43 509.69,50.14 509.28,49.78 508.88,49.48 508.43,49.30 507.92,49.19 507.38,49.05 506.91,48.79 506.59,48.37 506.42,47.85 506.33,47.31 506.22,46.82 505.99,46.40 505.67,45.98 505.35,45.53 505.16,45.03 505.18,44.50 505.39,43.99 505.67,43.52 505.89,43.08 505.99,42.60 506.01,42.08 506.05,41.53 506.23,41.02 506.59,40.63 507.07,40.37 507.59,40.20 508.05,40.00 508.43,39.70 508.78,39.31 509.17,38.92 509.63,38.64 510.15,38.57 510.69,38.69 511.20,38.88 511.68,39.02 512.16,39.04 512.68,38.97 513.23,38.92 513.76,39.00 514.21,39.29 514.55,39.72 514.81,40.20 515.09,40.61 515.44,40.94 515.89,41.22 516.35,41.53 516.70,41.94 516.86,42.44 516.84,42.99 516.73,43.52 516.68,44.02 516.74,44.50" fill="none" stroke="#222" stroke-opacity="0.4" stroke-width="0.4"/>
<polygon points="518.05,44.50 518.11,45.10 517.93,45.69 517.57,46.21 517.18,46.68 516.89,47.15 516.73,47.69 516.62,48.30 516.45,48.90 516.10,49.40 515.59,49.73 514.98,49.90 514.38,50.01 513.85,50.19 513.38,50.50 512.91,50.89 512.39,51.24 511.80,51.41 511.20,51.33 510.63,51.07 510.09,50.77 509.58,50.56 509.02,50.50 508.40,50.50 507.78,50.43 507.22,50.18 506.81,49.73 506.54,49.16 506.32,48.59 506.06,48.10 505.67,47.69 505.20,47.30 504.77,46.84 504.50,46.30 504.47,45.69 504.63,45.07 504.83,44.50 504.95,43.95 504.92,43.39 504.81,42.79 504.77,42.16 504.91,41.57 505.28,41.08 505.80,40.72 506.32,40.41 506.76,40.06 507.10,39.61 507.40,39.08 507.78,38.57 508.27,38.21 508.86,38.08 509.49,38.13 510.09,38.23 510.65,38.25 511.20,38.12 511.78,37.91 512.39,37.76 513.00,37.80 513.54,38.08 513.99,38.52 514.38,38.99 514.80,39.36 515.30,39.61 515.88,39.82 516.45,40.10 516.88,40.52 517.12,41.08 517.18,41.71 517.18,42.32 517.26,42.88 517.48,43.39 517.79,43.92 518.05,44.50" fill="none" stroke="#222" stroke-opacity="0.4" stroke-width="0.4"/>
<polygon points="518.50,44.50 518.26,45.12 518.18,45.73 518.24,46.39 518.31,47.09 518.25,47.79 517.94,48.39 517.41,48.85 516.79,49.19 516.21,49.51 515.76,49.93 515.38,50.47 514.98,51.06 514.49,51.55 513.86,51.81 513.16,51.82 512.47,51.68 511.82,51.56 511.20,51.59 510.57,51.76 509.89,51.95 509.19,52.01 508.54,51.81 508.00,51.37 507.55,50.82 507.13,50.31 506.64,49.93 506.05,49.65 505.40,49.37 504.83,48.96 504.46,48.39 504.33,47.70 504.34,47.00 504.35,46.34 504.22,45.73 503.94,45.13 503.63,44.50 503.46,43.82 503.54,43.15 503.88,42.54 504.34,42.00 504.77,41.50 505.06,40.96 505.23,40.32 505.40,39.63 505.70,39.00 506.20,38.54 506.85,38.29 507.55,38.18 508.20,38.07 508.78,37.84 509.31,37.46 509.89,37.05 510.52,36.76 511.20,36.72 511.86,36.95 512.47,37.32 513.04,37.65 513.62,37.84 514.28,37.90 514.98,37.94 515.66,38.13 516.20,38.54 516.56,39.14 516.79,39.81 517.01,40.43 517.34,40.96 517.80,41.42 518.31,41.91 518.71,42.49 518.86,43.15 518.75,43.84 518.50,44.50" fill="none" stroke="#222" stroke-opacity="0.4" stroke-width="0.4"/>
<polygon points="519.07,44.50 519.26,45.21 519.48,45.96 519.54,46.74 519.32,47.46 518.83,48.06 518.22,48.55 517.65,49.02 517.23,49.56 516.92,50.22 516.61,50.94 516.15,51.58 515.52,51.98 514.76,52.13 513.97,52.12 513.24,52.11 512.57,52.25 511.91,52.56 511.20,52.91 510.45,53.10 509.70,53.01 509.02,52.63 508.43,52.12 507.87,51.64 507.26,51.32 506.56,51.13 505.79,50.94 505.09,50.61 504.58,50.05 504.30,49.33 504.18,48.55 504.06,47.83 503.80,47.19 503.38,46.60 502.92,45.96 502.60,45.25 502.56,44.50 502.81,43.77 503.22,43.09 503.59,42.46 503.80,41.81 503.86,41.08 503.92,40.29 504.12,39.55 504.58,38.95 505.25,38.55 505.99,38.29 506.68,38.05 507.26,37.68 507.78,37.16 508.32,36.60 508.96,36.16 509.70,35.99 510.47,36.11 511.20,36.39 511.89,36.65 512.57,36.75 513.30,36.68 514.08,36.60 514.85,36.67 515.52,37.02 516.03,37.60 516.41,38.29 516.77,38.93 517.23,39.44 517.83,39.86 518.48,40.29 519.03,40.85 519.32,41.54 519.33,42.32 519.18,43.09 519.05,43.81 519.07,44.50" fill="none" stroke="#222" stroke-opacity="0.4" stroke-width="0.4"/>
<polygon points="520.71,44.50 520.44,45.31 519.99,46.05 519.58,46.74 519.33,47.46 519.26,48.26 519.20,49.12 518.98,49.95 518.49,50.61 517.76,51.06 516.94,51.34 516.17,51.60 515.53,52.00 514.96,52.56 514.36,53.18 513.66,53.67 512.85,53.87 512.01,53.74 511.20,53.43 510.44,53.14 509.70,53.02 508.90,53.09 508.04,53.18 507.19,53.11 506.44,52.74 505.88,52.10 505.46,51.34 505.07,50.63 504.57,50.06 503.92,49.60 503.20,49.12 502.59,48.51 502.26,47.75 502.24,46.90 502.41,46.05 502.56,45.26 502.54,44.50 502.34,43.73 502.10,42.90 502.03,42.04 502.26,41.25 502.79,40.58 503.47,40.03 504.10,39.53 504.57,38.94 504.91,38.21 505.26,37.42 505.75,36.72 506.44,36.26 507.28,36.09 508.15,36.11 508.96,36.12 509.70,35.98 510.43,35.64 511.20,35.26 512.03,35.04 512.85,35.13 513.60,35.54 514.25,36.11 514.87,36.64 515.53,37.00 516.30,37.22 517.14,37.42 517.91,37.79 518.49,38.39 518.80,39.18 518.93,40.03 519.06,40.83 519.33,41.54 519.79,42.20 520.30,42.90 520.66,43.67 520.71,44.50" fill="none" stroke="#222" stroke-opacity="0.4" stroke-width="0.4"/>
<polygon points="521.35,44.50 521.55,45.41 521.38,46.30 520.90,47.10 520.28,47.81 519.75,48.49 519.41,49.24 519.21,50.11 518.98,51.03 518.54,51.84 517.85,52.42 516.96,52.73 516.03,52.87 515.19,53.05 514.44,53.41 513.73,53.94 512.96,54.50 512.11,54.85 511.20,54.84 510.32,54.51 509.52,54.02 508.76,53.61 507.96,53.41 507.07,53.36 506.12,53.29 505.24,53.01 504.55,52.42 504.10,51.60 503.79,50.71 503.47,49.91 502.99,49.24 502.34,48.63 501.66,47.97 501.17,47.19 501.02,46.30 501.19,45.38 501.53,44.50 501.80,43.68 501.87,42.85 501.76,41.97 501.66,41.03 501.79,40.11 502.24,39.33 502.97,38.74 503.79,38.29 504.53,37.83 505.11,37.24 505.59,36.49 506.12,35.71 506.81,35.09 507.66,34.78 508.60,34.80 509.52,34.98 510.38,35.10 511.20,35.02 512.05,34.76 512.96,34.50 513.89,34.47 514.74,34.78 515.44,35.40 516.03,36.13 516.61,36.77 517.29,37.24 518.11,37.59 518.98,37.97 519.71,38.54 520.16,39.33 520.30,40.26 520.28,41.19 520.31,42.06 520.53,42.85 520.94,43.65 521.35,44.50" fill="none" stroke="#222" stroke-opacity="0.4" stroke-width="0.4"/>
<polygon points="522.18,44.50 522.40,45.48 522.24,46.45 521.73,47.32 521.06,48.09 520.47,48.82 520.08,49.63 519.86,50.56 519.61,51.56 519.15,52.45 518.41,53.09 517.45,53.43 516.45,53.59 515.52,53.77 514.71,54.14 513.94,54.71 513.11,55.31 512.18,55.70 511.20,55.71 510.25,55.36 509.38,54.83 508.55,54.38 507.69,54.14 506.73,54.08 505.71,54.01 504.75,53.71 503.99,53.09 503.49,52.21 503.16,51.25 502.82,50.37 502.32,49.63 501.62,48.97 500.88,48.25 500.34,47.41 500.16,46.45 500.34,45.45 500.71,44.50 501.01,43.61 501.10,42.72 500.99,41.76 500.88,40.75 501.01,39.75 501.49,38.89 502.27,38.25 503.16,37.75 503.97,37.27 504.61,36.64 505.14,35.84 505.71,34.99 506.45,34.31 507.36,33.96 508.38,33.97 509.38,34.17 510.31,34.31 511.20,34.24 512.12,33.97 513.11,33.69 514.11,33.64 515.04,33.96 515.81,34.62 516.45,35.41 517.07,36.12 517.79,36.64 518.67,37.03 519.61,37.44 520.41,38.05 520.91,38.89 521.08,39.89 521.06,40.91 521.08,41.85 521.30,42.72 521.73,43.58 522.18,44.50" fill="none" stroke="#222" stroke-opacity="0.4" stroke-width="0.4"/>
<polygon points="522.22,44.50 522.47,45.49 522.78,46.54 522.87,47.63 522.58,48.64 521.90,49.49 521.04,50.18 520.24,50.83 519.64,51.58 519.20,52.50 518.76,53.51 518.13,54.40 517.25,54.98 516.19,55.20 515.09,55.18 514.06,55.16 513.11,55.35 512.19,55.77 511.20,56.26 510.15,56.54 509.10,56.42 508.14,55.91 507.31,55.18 506.53,54.50 505.69,54.04 504.71,53.77 503.64,53.51 502.66,53.04 501.93,52.28 501.53,51.27 501.36,50.18 501.20,49.17 500.85,48.27 500.27,47.43 499.62,46.54 499.16,45.55 499.09,44.50 499.44,43.47 500.01,42.53 500.54,41.64 500.85,40.73 500.95,39.72 501.02,38.62 501.30,37.57 501.93,36.72 502.85,36.15 503.89,35.79 504.87,35.46 505.69,34.96 506.42,34.25 507.18,33.45 508.07,32.83 509.10,32.58 510.17,32.74 511.20,33.13 512.16,33.50 513.11,33.65 514.13,33.57 515.22,33.45 516.31,33.55 517.25,34.02 517.97,34.83 518.51,35.79 519.01,36.69 519.64,37.42 520.47,38.01 521.38,38.62 522.15,39.39 522.58,40.36 522.61,41.44 522.39,42.53 522.20,43.54 522.22,44.50" fill="none" stroke="#222" stroke-opacity="0.4" stroke-width="0.4"/>
<polygon points="523.91,44.50 523.40,45.57 522.88,46.56 522.58,47.55 522.53,48.63 522.56,49.80 522.38,50.96 521.84,51.95 520.94,52.67 519.86,53.16 518.82,53.59 517.96,54.15 517.23,54.95 516.50,55.86 515.62,56.64 514.56,57.05 513.41,57.02 512.27,56.70 511.20,56.36 510.17,56.24 509.11,56.38 507.96,56.60 506.78,56.64 505.71,56.27 504.84,55.51 504.18,54.53 503.58,53.59 502.87,52.83 501.96,52.25 500.94,51.69 500.02,50.96 499.43,49.99 499.25,48.85 499.37,47.67 499.52,46.56 499.46,45.53 499.14,44.50 498.72,43.41 498.48,42.26 498.65,41.14 499.25,40.15 500.10,39.33 500.93,38.57 501.55,37.74 501.96,36.75 502.34,35.64 502.90,34.61 503.75,33.86 504.84,33.49 506.03,33.40 507.14,33.36 508.15,33.12 509.11,32.62 510.11,32.02 511.20,31.59 512.33,31.56 513.41,31.98 514.37,32.67 515.26,33.36 516.18,33.82 517.23,34.05 518.39,34.24 519.50,34.61 520.39,35.31 520.94,36.33 521.23,37.48 521.47,38.57 521.88,39.52 522.53,40.37 523.30,41.26 523.92,42.26 524.14,43.37 523.91,44.50" fill="none" stroke="#222" stroke-opacity="0.4" stroke-width="0.4"/>
<rect x="385.00" y="61.40" width="5.8" height="5.8" fill="#9b9b9b"/>
<rect x="407.40" y="69.00" width="5.8" height="5.8" fill="#9b9b9b"/>
<rect x="429.60" y="71.00" width="5.8" height="5.8" fill="#9b9b9b"/>
<rect x="451.90" y="73.20" width="5.8" height="5.8" fill="#9b9b9b"/>
<rect x="474.00" y="85.30" width="5.8" height="5.8" fill="#9b9b9b"/>
<rect x="496.60" y="94.90" width="5.8" height="5.8" fill="#9b9b9b"/>
<rect x="518.90" y="106.50" width="5.8" height="5.8" fill="#9b9b9b"/>
<circle cx="387.90" cy="119.70" r="3.0" fill="#9b9b9b"/>
<circle cx="410.30" cy="122.80" r="3.0" fill="#9b9b9b"/>
<circle cx="432.50" cy="124.20" r="3.0" fill="#9b9b9b"/>
<circle cx="454.80" cy="125.70" r="3.0" fill="#9b9b9b"/>
<circle cx="476.90" cy="133.00" r="3.0" fill="#9b9b9b"/>
<circle cx="499.50" cy="138.90" r="3.0" fill="#9b9b9b"/>
<circle cx="521.80" cy="144.50" r="3.0" fill="#9b9b9b"/>
<path d="M387.90 156.80L391.50 161.20L387.90 165.60L384.30 161.20Z" fill="#9b9b9b"/>
<path d="M410.30 157.60L413.90 162.00L410.30 166.40L406.70 162.00Z" fill="#9b9b9b"/>
<path d="M432.50 158.20L436.10 162.60L432.50 167.00L428.90 162.60Z" fill="#9b9b9b"/>
<path d="M454.80 159.00L458.40 163.40L454.80 167.80L451.20 163.40Z" fill="#9b9b9b"/>
<path d="M476.90 161.90L480.50 166.30L476.90 170.70L473.30 166.30Z" fill="#9b9b9b"/>
<path d="M499.50 164.10L503.10 168.50L499.50 172.90L495.90 168.50Z" fill="#9b9b9b"/>
<path d="M521.80 165.50L525.40 169.90L521.80 174.30L518.20 169.90Z" fill="#9b9b9b"/>
<text x="402" y="48.5" font-family='"Liberation Sans", sans-serif' font-size="11.7" fill="#666666" text-anchor="start" >Thermal phonons</text>
<text x="393.5" y="86" font-family='"Liberation Sans", sans-serif' font-size="11.7" fill="#176fb6" text-anchor="start" >k = 4</text>
<text x="393.5" y="138" font-family='"Liberation Sans", sans-serif' font-size="11.7" fill="#6aa84f" text-anchor="start" >k = 3</text>
<text x="393.5" y="179.8" font-family='"Liberation Sans", sans-serif' font-size="11.7" fill="#bf1029" text-anchor="start" >k = 2</text>
<text x="373.6" y="187.95" font-family='"Liberation Serif", serif' font-size="12" fill="#262626" text-anchor="end" >1</text>
<text x="373.6" y="153.14999999999998" font-family='"Liberation Serif", serif' font-size="12" fill="#262626" text-anchor="end" >2</text>
<text x="373.6" y="96.95" font-family='"Liberation Serif", serif' font-size="12" fill="#262626" text-anchor="end" >6</text>
<text x="373.6" y="25.25" font-family='"Liberation Serif", serif' font-size="12" fill="#262626" text-anchor="end" >24</text>
<text x="390.5" y="202.7" font-family='"Liberation Serif", serif' font-size="12" fill="#262626" text-anchor="middle" >34</text>
<text x="449.9" y="202.7" font-family='"Liberation Serif", serif' font-size="12" fill="#262626" text-anchor="middle" >35</text>
<text x="509.2" y="202.7" font-family='"Liberation Serif", serif' font-size="12" fill="#262626" text-anchor="middle" >36</text>
<text x="450.7" y="221" font-family='"Liberation Sans", sans-serif' font-size="11.7" fill="#262626" text-anchor="middle" ><tspan font-style="italic">P</tspan> (mW)</text>
<text transform="translate(354.4 109.6) rotate(-90)" font-family='"Liberation Sans", sans-serif' font-size="11.7" fill="#262626" text-anchor="middle"><tspan font-style="italic">g</tspan><tspan font-size="8" dy="-4.2">(k)</tspan><tspan dy="4.2">(0)</tspan></text>
<text x="350.5" y="14" font-family='"Liberation Serif", serif' font-size="16" fill="#000" text-anchor="start" font-weight="bold">b</text>
<text x="423.7" y="13.8" font-family='"Liberation Sans", sans-serif' font-size="11.7" fill="#666666" text-anchor="start">Unlocked, <tspan font-family='"Liberation Serif", serif' fill="#d2691e" font-size="15">2Ω</tspan><tspan font-family='"Liberation Serif", serif' fill="#d2691e" font-size="8">0</tspan></text>
<rect x="531.5" y="22.5" width="149.0" height="168.0" fill="url(#gL)"/>
<path d="M531.5 22.5H680.5V190.5H531.5Z" fill="none" stroke="#707070" stroke-width="1"/>
<path d="M531.5 184.20h2.2M680.5 184.20h-2.2" stroke="#707070" stroke-width="0.8"/>
<path d="M531.5 149.00h2.2M680.5 149.00h-2.2" stroke="#707070" stroke-width="0.8"/>
<path d="M531.5 93.21h2.2M680.5 93.21h-2.2" stroke="#707070" stroke-width="0.8"/>
<path d="M531.5 22.81h2.2M680.5 22.81h-2.2" stroke="#707070" stroke-width="0.8"/>
<path d="M538.30 190.5v-2.2" stroke="#707070" stroke-width="0.8"/>
<path d="M609.40 190.5v-2.2" stroke="#707070" stroke-width="0.8"/>
<path d="M538.30 22.5v2.2" stroke="#707070" stroke-width="0.8"/>
<path d="M567.00 22.5v2.2" stroke="#707070" stroke-width="0.8"/>
<path d="M595.60 22.5v2.2" stroke="#707070" stroke-width="0.8"/>
<path d="M623.80 22.5v2.2" stroke="#707070" stroke-width="0.8"/>
<path d="M651.80 22.5v2.2" stroke="#707070" stroke-width="0.8"/>
<radialGradient id="bw658" gradientUnits="userSpaceOnUse" cx="658.8" cy="42.1" r="13"><stop offset="0" stop-color="#333"/><stop offset="0.3" stop-color="#888"/><stop offset="0.7" stop-color="#b0b0b0"/><stop offset="1" stop-color="#d0d0d0"/></radialGradient>
<path d="M658.8 42.1L648.92 33.81A12.9 12.9 0 0 0 648.92 50.39Z" fill="url(#bw658)" fill-opacity="0.45"/>
<path d="M657.11 40.69A2.20 2.20 0 0 0 657.11 43.51" fill="none" stroke="#3a3a3a" stroke-opacity="0.55" stroke-width="0.42"/>
<path d="M656.35 40.04A3.20 3.20 0 0 0 656.35 44.16" fill="none" stroke="#3a3a3a" stroke-opacity="0.55" stroke-width="0.42"/>
<path d="M655.58 39.40A4.20 4.20 0 0 0 655.58 44.80" fill="none" stroke="#3a3a3a" stroke-opacity="0.55" stroke-width="0.42"/>
<path d="M654.82 38.76A5.20 5.20 0 0 0 654.82 45.44" fill="none" stroke="#3a3a3a" stroke-opacity="0.55" stroke-width="0.42"/>
<path d="M654.05 38.11A6.20 6.20 0 0 0 654.05 46.09" fill="none" stroke="#3a3a3a" stroke-opacity="0.55" stroke-width="0.42"/>
<path d="M653.28 37.47A7.20 7.20 0 0 0 653.28 46.73" fill="none" stroke="#3a3a3a" stroke-opacity="0.55" stroke-width="0.42"/>
<path d="M652.52 36.83A8.20 8.20 0 0 0 652.52 47.37" fill="none" stroke="#3a3a3a" stroke-opacity="0.55" stroke-width="0.42"/>
<path d="M651.75 36.19A9.20 9.20 0 0 0 651.75 48.01" fill="none" stroke="#3a3a3a" stroke-opacity="0.55" stroke-width="0.42"/>
<path d="M650.99 35.54A10.20 10.20 0 0 0 650.99 48.66" fill="none" stroke="#3a3a3a" stroke-opacity="0.55" stroke-width="0.42"/>
<path d="M650.22 34.90A11.20 11.20 0 0 0 650.22 49.30" fill="none" stroke="#3a3a3a" stroke-opacity="0.55" stroke-width="0.42"/>
<path d="M649.45 34.26A12.20 12.20 0 0 0 649.45 49.94" fill="none" stroke="#3a3a3a" stroke-opacity="0.55" stroke-width="0.42"/>
<path d="M658.8 42.1L668.68 33.81A12.9 12.9 0 0 1 668.68 50.39Z" fill="url(#bw658)" fill-opacity="0.45"/>
<path d="M660.49 40.69A2.20 2.20 0 0 1 660.49 43.51" fill="none" stroke="#3a3a3a" stroke-opacity="0.55" stroke-width="0.42"/>
<path d="M661.25 40.04A3.20 3.20 0 0 1 661.25 44.16" fill="none" stroke="#3a3a3a" stroke-opacity="0.55" stroke-width="0.42"/>
<path d="M662.02 39.40A4.20 4.20 0 0 1 662.02 44.80" fill="none" stroke="#3a3a3a" stroke-opacity="0.55" stroke-width="0.42"/>
<path d="M662.78 38.76A5.20 5.20 0 0 1 662.78 45.44" fill="none" stroke="#3a3a3a" stroke-opacity="0.55" stroke-width="0.42"/>
<path d="M663.55 38.11A6.20 6.20 0 0 1 663.55 46.09" fill="none" stroke="#3a3a3a" stroke-opacity="0.55" stroke-width="0.42"/>
<path d="M664.32 37.47A7.20 7.20 0 0 1 664.32 46.73" fill="none" stroke="#3a3a3a" stroke-opacity="0.55" stroke-width="0.42"/>
<path d="M665.08 36.83A8.20 8.20 0 0 1 665.08 47.37" fill="none" stroke="#3a3a3a" stroke-opacity="0.55" stroke-width="0.42"/>
<path d="M665.85 36.19A9.20 9.20 0 0 1 665.85 48.01" fill="none" stroke="#3a3a3a" stroke-opacity="0.55" stroke-width="0.42"/>
<path d="M666.61 35.54A10.20 10.20 0 0 1 666.61 48.66" fill="none" stroke="#3a3a3a" stroke-opacity="0.55" stroke-width="0.42"/>
<path d="M667.38 34.90A11.20 11.20 0 0 1 667.38 49.30" fill="none" stroke="#3a3a3a" stroke-opacity="0.55" stroke-width="0.42"/>
<path d="M668.15 34.26A12.20 12.20 0 0 1 668.15 49.94" fill="none" stroke="#3a3a3a" stroke-opacity="0.55" stroke-width="0.42"/>
<ellipse cx="658.8" cy="42.1" rx="1.3" ry="1.1" fill="#111"/>
<path d="M658.3 45.1L659.3 45.1L659.8 63.400000000000006L657.8 63.400000000000006Z" fill="#3372c4"/>
<path d="M637.5999999999999 66.7 C640.3 66.6 641.8 62.900000000000006 644.3 63.2 C646.8 63.5 648.8 66.7 652.3 66.4 C655.3 66.1 657.3 64.6 658.8 63.400000000000006" fill="none" stroke="#5a8fc8" stroke-width="0.7"/>
<circle cx="631.8" cy="67.3" r="5.5" fill="none" stroke="#48a0ea" stroke-width="0.9"/>
<path d="M628.3 67.6 C629.1999999999999 63.0 631.0 63.0 631.8 67.3 S634.4 71.6 635.3 67.0" fill="none" stroke="#48a0ea" stroke-width="0.9"/>
<rect x="536.60" y="107.00" width="5.8" height="5.8" fill="#0b6fc0"/>
<rect x="550.72" y="118.20" width="5.8" height="5.8" fill="#0b6fc0"/>
<rect x="564.84" y="127.00" width="5.8" height="5.8" fill="#0b6fc0"/>
<rect x="578.96" y="128.90" width="5.8" height="5.8" fill="#0b6fc0"/>
<rect x="593.08" y="139.60" width="5.8" height="5.8" fill="#0b6fc0"/>
<rect x="607.20" y="134.90" width="5.8" height="5.8" fill="#0b6fc0"/>
<rect x="621.32" y="143.60" width="5.8" height="5.8" fill="#0b6fc0"/>
<rect x="635.44" y="150.60" width="5.8" height="5.8" fill="#0b6fc0"/>
<rect x="649.56" y="148.40" width="5.8" height="5.8" fill="#0b6fc0"/>
<rect x="663.68" y="162.20" width="5.8" height="5.8" fill="#0b6fc0"/>
<path d="M539.50 166.60L543.10 171.00L539.50 175.40L535.90 171.00Z" fill="#d0103a"/>
<path d="M553.62 172.50L557.22 176.90L553.62 181.30L550.02 176.90Z" fill="#d0103a"/>
<path d="M567.74 174.50L571.34 178.90L567.74 183.30L564.14 178.90Z" fill="#d0103a"/>
<path d="M581.86 172.20L585.46 176.60L581.86 181.00L578.26 176.60Z" fill="#d0103a"/>
<path d="M595.98 173.10L599.58 177.50L595.98 181.90L592.38 177.50Z" fill="#d0103a"/>
<path d="M610.10 175.10L613.70 179.50L610.10 183.90L606.50 179.50Z" fill="#d0103a"/>
<path d="M624.22 174.50L627.82 178.90L624.22 183.30L620.62 178.90Z" fill="#d0103a"/>
<path d="M638.34 175.90L641.94 180.30L638.34 184.70L634.74 180.30Z" fill="#d0103a"/>
<path d="M652.46 176.20L656.06 180.60L652.46 185.00L648.86 180.60Z" fill="#d0103a"/>
<path d="M666.58 178.20L670.18 182.60L666.58 187.00L662.98 182.60Z" fill="#d0103a"/>
<circle cx="539.50" cy="147.90" r="3.1" fill="#6aa33a"/>
<circle cx="553.62" cy="157.80" r="3.1" fill="#6aa33a"/>
<circle cx="567.74" cy="162.00" r="3.1" fill="#6aa33a"/>
<circle cx="581.86" cy="158.60" r="3.1" fill="#6aa33a"/>
<circle cx="595.98" cy="161.40" r="3.1" fill="#6aa33a"/>
<circle cx="610.10" cy="164.00" r="3.1" fill="#6aa33a"/>
<circle cx="624.22" cy="165.10" r="3.1" fill="#6aa33a"/>
<circle cx="638.34" cy="168.50" r="3.1" fill="#6aa33a"/>
<circle cx="652.46" cy="168.50" r="3.1" fill="#6aa33a"/>
<circle cx="666.58" cy="175.20" r="3.1" fill="#6aa33a"/>
<rect x="647.2" y="145" width="10.4" height="42.3" fill="none" stroke="#d0103a" stroke-width="0.8"/>
<text x="541.5" y="39.7" font-family='"Liberation Sans", sans-serif' font-size="11.7" fill="#111" text-anchor="start" ><tspan font-style="italic">P</tspan> = 36mW</text>
<text x="620.7" y="135" font-family='"Liberation Sans", sans-serif' font-size="11.7" fill="#bf1029" text-anchor="start"><tspan font-style="italic">U</tspan><tspan font-size="6.8" dy="3.6">e</tspan><tspan dy="-3.6"> = 0.85V</tspan></text>
<text x="538.9" y="202.2" font-family='"Liberation Serif", serif' font-size="12" fill="#262626" text-anchor="middle" >0</text>
<text x="609.5" y="202.2" font-family='"Liberation Serif", serif' font-size="12" fill="#262626" text-anchor="middle" >0.5</text>
<text x="680.1" y="202.2" font-family='"Liberation Serif", serif' font-size="12" fill="#262626" text-anchor="middle" >1</text>
<text x="613.6" y="218.9" font-family='"Liberation Sans", sans-serif' font-size="11.7" fill="#262626" text-anchor="middle"><tspan font-style="italic">U</tspan><tspan font-size="6.8" dy="3.6">e</tspan><tspan dy="-3.6"> (v)</tspan></text>
<text x="604" y="13.8" font-family='"Liberation Sans", sans-serif' font-size="11.7" fill="#176fb6" text-anchor="middle">Locked, <tspan font-family='"Liberation Serif", serif' fill="#d2691e" font-size="15">2Ω</tspan><tspan font-family='"Liberation Serif", serif' fill="#d2691e" font-size="8">0</tspan></text>
<circle cx="165.00" cy="235.30" r="2.5" fill="#9b9b9b"/>
<text x="177.8" y="238.9" font-family='"Liberation Sans", sans-serif' font-size="11.7" fill="#666666" text-anchor="start" >Unlocked</text>
<path d="M258.20 232.25L260.70 235.50L258.20 238.75L255.70 235.50Z" fill="#d0103a"/>
<path d="M268.50 232.25L271.00 235.50L268.50 238.75L266.00 235.50Z" fill="#6aa33a"/>
<path d="M279.00 232.25L281.50 235.50L279.00 238.75L276.50 235.50Z" fill="#0b6fc0"/>
<text x="291.6" y="238.9" font-family='"Liberation Sans", sans-serif' font-size="12" fill="#bf1029">Locked (<tspan font-style="italic">U</tspan><tspan font-size="6.8" dy="3.6">e</tspan><tspan dy="-3.6"> = 0.85V)</tspan></text>
<rect x="38.5" y="260.5" width="132.0" height="131.0" fill="url(#gC)"/>
<path d="M38.5 260.5H170.5V391.5H38.5Z" fill="none" stroke="#707070" stroke-width="1"/>
<path d="M38.5 269.17h2.2M170.5 269.17h-2.2" stroke="#707070" stroke-width="0.8"/>
<path d="M38.5 319.48h2.2M170.5 319.48h-2.2" stroke="#707070" stroke-width="0.8"/>
<path d="M38.5 390.40h2.2M170.5 390.40h-2.2" stroke="#707070" stroke-width="0.8"/>
<path d="M42.10 391.5v-2.2" stroke="#707070" stroke-width="0.8"/>
<path d="M97.06 391.5v-2.2" stroke="#707070" stroke-width="0.8"/>
<path d="M152.02 391.5v-2.2" stroke="#707070" stroke-width="0.8"/>
<path d="M42.10 260.5v2.2" stroke="#707070" stroke-width="0.8"/>
<path d="M97.06 260.5v2.2" stroke="#707070" stroke-width="0.8"/>
<path d="M152.02 260.5v2.2" stroke="#707070" stroke-width="0.8"/>
<text x="33.9" y="272.66855812006554" font-family='"Liberation Serif", serif' font-size="12" fill="#262626" text-anchor="end" >2</text>
<text x="33.9" y="322.98415259188204" font-family='"Liberation Serif", serif' font-size="12" fill="#262626" text-anchor="end" >1.5</text>
<text x="33.9" y="393.9" font-family='"Liberation Serif", serif' font-size="12" fill="#262626" text-anchor="end" >1</text>
<text x="42.1" y="404.7" font-family='"Liberation Serif", serif' font-size="12" fill="#262626" text-anchor="middle" >30</text>
<text x="97.06" y="404.7" font-family='"Liberation Serif", serif' font-size="12" fill="#262626" text-anchor="middle" >33</text>
<text x="152.02" y="404.7" font-family='"Liberation Serif", serif' font-size="12" fill="#262626" text-anchor="middle" >36</text>
<circle cx="45.40" cy="276.80" r="2.45" fill="#9b9b9b"/>
<circle cx="59.90" cy="278.90" r="2.45" fill="#9b9b9b"/>
<circle cx="73.50" cy="286.40" r="2.45" fill="#9b9b9b"/>
<circle cx="87.10" cy="294.40" r="2.45" fill="#9b9b9b"/>
<circle cx="100.70" cy="302.00" r="2.45" fill="#9b9b9b"/>
<circle cx="114.80" cy="307.00" r="2.45" fill="#9b9b9b"/>
<circle cx="128.40" cy="329.30" r="2.45" fill="#9b9b9b"/>
<circle cx="142.00" cy="350.30" r="2.45" fill="#9b9b9b"/>
<circle cx="155.70" cy="371.40" r="2.45" fill="#9b9b9b"/>
<path d="M54.90 343.60L58.40 348.30L54.90 353.00L51.40 348.30Z" fill="#d0103a"/>
<path d="M75.60 357.20L79.10 361.90L75.60 366.60L72.10 361.90Z" fill="#d0103a"/>
<path d="M89.20 358.40L92.70 363.10L89.20 367.80L85.70 363.10Z" fill="#d0103a"/>
<path d="M103.20 362.10L106.70 366.80L103.20 371.50L99.70 366.80Z" fill="#d0103a"/>
<path d="M116.80 364.20L120.30 368.90L116.80 373.60L113.30 368.90Z" fill="#d0103a"/>
<path d="M130.50 369.60L134.00 374.30L130.50 379.00L127.00 374.30Z" fill="#d0103a"/>
<path d="M137.50 373.70L141.00 378.40L137.50 383.10L134.00 378.40Z" fill="#d0103a"/>
<path d="M144.50 375.70L148.00 380.40L144.50 385.10L141.00 380.40Z" fill="#d0103a"/>
<path d="M151.10 377.80L154.60 382.50L151.10 387.20L147.60 382.50Z" fill="#d0103a"/>
<path d="M158.10 379.50L161.60 384.20L158.10 388.90L154.60 384.20Z" fill="#d0103a"/>
<text x="3" y="259.8" font-family='"Liberation Serif", serif' font-size="16" fill="#000" text-anchor="start" font-weight="bold">c</text>
<text transform="translate(11.6 327) rotate(-90)" font-family='"Liberation Sans", sans-serif' font-size="11.7" fill="#262626" text-anchor="middle"><tspan font-style="italic">g</tspan><tspan font-size="8" dy="-4.2">(2)</tspan><tspan dy="4.2">(0)</tspan></text>
<text x="96" y="420.9" font-family='"Liberation Sans", sans-serif' font-size="11.7" fill="#262626" text-anchor="middle" ><tspan font-style="italic">P</tspan> (mW)</text>
<text x="160.8" y="279.7" font-family='"Liberation Serif", serif' font-size="15" fill="#bb1419" text-anchor="end">Ω<tspan font-size="8">0</tspan></text>
<rect x="206.0" y="260.5" width="131.0" height="131.0" fill="url(#gD)"/>
<path d="M206.0 260.5H337.0V391.5H206.0Z" fill="none" stroke="#707070" stroke-width="1"/>
<path d="M206.0 269.45h2.2M337.0 269.45h-2.2" stroke="#707070" stroke-width="0.8"/>
<path d="M206.0 344.10h2.2M337.0 344.10h-2.2" stroke="#707070" stroke-width="0.8"/>
<path d="M206.0 391.20h2.2M337.0 391.20h-2.2" stroke="#707070" stroke-width="0.8"/>
<path d="M206.0 316.55h2.2M337.0 316.55h-2.2" stroke="#707070" stroke-width="0.8"/>
<path d="M206.0 297.00h2.2M337.0 297.00h-2.2" stroke="#707070" stroke-width="0.8"/>
<path d="M206.0 281.84h2.2M337.0 281.84h-2.2" stroke="#707070" stroke-width="0.8"/>
<path d="M209.20 391.5v-2.2" stroke="#707070" stroke-width="0.8"/>
<path d="M264.16 391.5v-2.2" stroke="#707070" stroke-width="0.8"/>
<path d="M319.12 391.5v-2.2" stroke="#707070" stroke-width="0.8"/>
<path d="M209.20 260.5v2.2" stroke="#707070" stroke-width="0.8"/>
<path d="M264.16 260.5v2.2" stroke="#707070" stroke-width="0.8"/>
<path d="M319.12 260.5v2.2" stroke="#707070" stroke-width="0.8"/>
<text x="201.4" y="272.9482662160335" font-family='"Liberation Serif", serif' font-size="12" fill="#262626" text-anchor="end" >6</text>
<text x="201.4" y="347.59999999999997" font-family='"Liberation Serif", serif' font-size="12" fill="#262626" text-anchor="end" >2</text>
<text x="201.4" y="394.7" font-family='"Liberation Serif", serif' font-size="12" fill="#262626" text-anchor="end" >1</text>
<text x="209.2" y="404.7" font-family='"Liberation Serif", serif' font-size="12" fill="#262626" text-anchor="middle" >30</text>
<text x="264.15999999999997" y="404.7" font-family='"Liberation Serif", serif' font-size="12" fill="#262626" text-anchor="middle" >33</text>
<text x="319.12" y="404.7" font-family='"Liberation Serif", serif' font-size="12" fill="#262626" text-anchor="middle" >36</text>
<circle cx="213.40" cy="274.80" r="2.45" fill="#9b9b9b"/>
<circle cx="227.00" cy="279.30" r="2.45" fill="#9b9b9b"/>
<circle cx="240.60" cy="287.60" r="2.45" fill="#9b9b9b"/>
<circle cx="254.20" cy="294.60" r="2.45" fill="#9b9b9b"/>
<circle cx="267.90" cy="303.30" r="2.45" fill="#9b9b9b"/>
<circle cx="281.50" cy="309.50" r="2.45" fill="#9b9b9b"/>
<circle cx="295.10" cy="332.20" r="2.45" fill="#9b9b9b"/>
<circle cx="309.10" cy="351.60" r="2.45" fill="#9b9b9b"/>
<circle cx="322.80" cy="371.00" r="2.45" fill="#9b9b9b"/>
<path d="M222.40 338.60L225.90 343.30L222.40 348.00L218.90 343.30Z" fill="#6aa33a"/>
<path d="M243.10 355.10L246.60 359.80L243.10 364.50L239.60 359.80Z" fill="#6aa33a"/>
<path d="M256.70 357.20L260.20 361.90L256.70 366.60L253.20 361.90Z" fill="#6aa33a"/>
<path d="M270.30 359.20L273.80 363.90L270.30 368.60L266.80 363.90Z" fill="#6aa33a"/>
<path d="M284.00 361.30L287.50 366.00L284.00 370.70L280.50 366.00Z" fill="#6aa33a"/>
<path d="M298.00 368.30L301.50 373.00L298.00 377.70L294.50 373.00Z" fill="#6aa33a"/>
<path d="M304.60 371.60L308.10 376.30L304.60 381.00L301.10 376.30Z" fill="#6aa33a"/>
<path d="M311.60 374.50L315.10 379.20L311.60 383.90L308.10 379.20Z" fill="#6aa33a"/>
<path d="M318.20 376.60L321.70 381.30L318.20 386.00L314.70 381.30Z" fill="#6aa33a"/>
<path d="M324.80 378.20L328.30 382.90L324.80 387.60L321.30 382.90Z" fill="#6aa33a"/>
<text x="176.5" y="259.8" font-family='"Liberation Serif", serif' font-size="16" fill="#000" text-anchor="start" font-weight="bold">d</text>
<text transform="translate(185.3 324.2) rotate(-90)" font-family='"Liberation Sans", sans-serif' font-size="11.7" fill="#262626" text-anchor="middle"><tspan font-style="italic">g</tspan><tspan font-size="8" dy="-4.2">(3)</tspan><tspan dy="4.2">(0)</tspan></text>
<text x="266.6" y="420.9" font-family='"Liberation Sans", sans-serif' font-size="11.7" fill="#262626" text-anchor="middle" ><tspan font-style="italic">P</tspan> (mW)</text>
<text x="328" y="279.7" font-family='"Liberation Serif", serif' font-size="15" fill="#bb1419" text-anchor="end">Ω<tspan font-size="8">0</tspan></text>
<rect x="376.0" y="260.5" width="131.0" height="131.0" fill="url(#gE)"/>
<path d="M376.0 260.5H507.0V391.5H376.0Z" fill="none" stroke="#707070" stroke-width="1"/>
<path d="M376.0 271.65h2.2M507.0 271.65h-2.2" stroke="#707070" stroke-width="0.8"/>
<path d="M376.0 323.45h2.2M507.0 323.45h-2.2" stroke="#707070" stroke-width="0.8"/>
<path d="M376.0 364.50h2.2M507.0 364.50h-2.2" stroke="#707070" stroke-width="0.8"/>
<path d="M376.0 390.40h2.2M507.0 390.40h-2.2" stroke="#707070" stroke-width="0.8"/>
<path d="M376.0 349.35h2.2M507.0 349.35h-2.2" stroke="#707070" stroke-width="0.8"/>
<path d="M376.0 338.60h2.2M507.0 338.60h-2.2" stroke="#707070" stroke-width="0.8"/>
<path d="M376.0 312.70h2.2M507.0 312.70h-2.2" stroke="#707070" stroke-width="0.8"/>
<path d="M376.0 304.36h2.2M507.0 304.36h-2.2" stroke="#707070" stroke-width="0.8"/>
<path d="M376.0 297.55h2.2M507.0 297.55h-2.2" stroke="#707070" stroke-width="0.8"/>
<path d="M376.0 278.46h2.2M507.0 278.46h-2.2" stroke="#707070" stroke-width="0.8"/>
<path d="M376.0 263.31h2.2M507.0 263.31h-2.2" stroke="#707070" stroke-width="0.8"/>
<path d="M379.30 391.5v-2.2" stroke="#707070" stroke-width="0.8"/>
<path d="M434.41 391.5v-2.2" stroke="#707070" stroke-width="0.8"/>
<path d="M489.52 391.5v-2.2" stroke="#707070" stroke-width="0.8"/>
<path d="M379.30 260.5v2.2" stroke="#707070" stroke-width="0.8"/>
<path d="M434.41 260.5v2.2" stroke="#707070" stroke-width="0.8"/>
<path d="M489.52 260.5v2.2" stroke="#707070" stroke-width="0.8"/>
<text x="371.4" y="275.149471231322" font-family='"Liberation Serif", serif' font-size="12" fill="#262626" text-anchor="end" >24</text>
<text x="371.4" y="326.94947123132204" font-family='"Liberation Serif", serif' font-size="12" fill="#262626" text-anchor="end" >6</text>
<text x="371.4" y="368.0" font-family='"Liberation Serif", serif' font-size="12" fill="#262626" text-anchor="end" >2</text>
<text x="371.4" y="393.9" font-family='"Liberation Serif", serif' font-size="12" fill="#262626" text-anchor="end" >1</text>
<text x="379.3" y="404.7" font-family='"Liberation Serif", serif' font-size="12" fill="#262626" text-anchor="middle" >30</text>
<text x="434.41" y="404.7" font-family='"Liberation Serif", serif' font-size="12" fill="#262626" text-anchor="middle" >33</text>
<text x="489.52" y="404.7" font-family='"Liberation Serif", serif' font-size="12" fill="#262626" text-anchor="middle" >36</text>
<circle cx="383.40" cy="272.30" r="2.45" fill="#9b9b9b"/>
<circle cx="397.00" cy="280.10" r="2.45" fill="#9b9b9b"/>
<circle cx="410.60" cy="288.80" r="2.45" fill="#9b9b9b"/>
<circle cx="424.20" cy="296.20" r="2.45" fill="#9b9b9b"/>
<circle cx="437.90" cy="304.10" r="2.45" fill="#9b9b9b"/>
<circle cx="451.50" cy="311.50" r="2.45" fill="#9b9b9b"/>
<circle cx="465.10" cy="334.20" r="2.45" fill="#9b9b9b"/>
<circle cx="479.10" cy="353.20" r="2.45" fill="#9b9b9b"/>
<circle cx="492.80" cy="370.60" r="2.45" fill="#9b9b9b"/>
<path d="M392.40 334.90L395.90 339.60L392.40 344.30L388.90 339.60Z" fill="#0b6fc0"/>
<path d="M413.10 353.90L416.60 358.60L413.10 363.30L409.60 358.60Z" fill="#0b6fc0"/>
<path d="M426.70 356.80L430.20 361.50L426.70 366.20L423.20 361.50Z" fill="#0b6fc0"/>
<path d="M440.30 357.60L443.80 362.30L440.30 367.00L436.80 362.30Z" fill="#0b6fc0"/>
<path d="M454.00 360.10L457.50 364.80L454.00 369.50L450.50 364.80Z" fill="#0b6fc0"/>
<path d="M468.00 368.30L471.50 373.00L468.00 377.70L464.50 373.00Z" fill="#0b6fc0"/>
<path d="M474.60 371.20L478.10 375.90L474.60 380.60L471.10 375.90Z" fill="#0b6fc0"/>
<path d="M481.60 374.50L485.10 379.20L481.60 383.90L478.10 379.20Z" fill="#0b6fc0"/>
<path d="M488.20 376.60L491.70 381.30L488.20 386.00L484.70 381.30Z" fill="#0b6fc0"/>
<path d="M494.80 378.70L498.30 383.40L494.80 388.10L491.30 383.40Z" fill="#0b6fc0"/>
<text x="349.3" y="259.8" font-family='"Liberation Serif", serif' font-size="16" fill="#000" text-anchor="start" font-weight="bold">e</text>
<text transform="translate(356.2 325.6) rotate(-90)" font-family='"Liberation Sans", sans-serif' font-size="11.7" fill="#262626" text-anchor="middle"><tspan font-style="italic">g</tspan><tspan font-size="8" dy="-4.2">(4)</tspan><tspan dy="4.2">(0)</tspan></text>
<text x="436.6" y="420.9" font-family='"Liberation Sans", sans-serif' font-size="11.7" fill="#262626" text-anchor="middle" ><tspan font-style="italic">P</tspan> (mW)</text>
<text x="498" y="279.7" font-family='"Liberation Serif", serif' font-size="15" fill="#bb1419" text-anchor="end">Ω<tspan font-size="8">0</tspan></text>
<rect x="547.5" y="259.5" width="131.5" height="131.5" fill="url(#gF)"/>
<path d="M547.5 259.5H679.0V391.0H547.5Z" fill="none" stroke="#707070" stroke-width="1"/>
<path d="M547.5 269.17h2.2M679.0 269.17h-2.2" stroke="#707070" stroke-width="0.8"/>
<path d="M547.5 319.48h2.2M679.0 319.48h-2.2" stroke="#707070" stroke-width="0.8"/>
<path d="M547.5 390.40h2.2M679.0 390.40h-2.2" stroke="#707070" stroke-width="0.8"/>
<path d="M557.40 391.0v-2.2" stroke="#707070" stroke-width="0.8"/>
<path d="M605.85 391.0v-2.2" stroke="#707070" stroke-width="0.8"/>
<path d="M654.30 391.0v-2.2" stroke="#707070" stroke-width="0.8"/>
<path d="M557.40 259.5v2.2" stroke="#707070" stroke-width="0.8"/>
<path d="M605.85 259.5v2.2" stroke="#707070" stroke-width="0.8"/>
<path d="M654.30 259.5v2.2" stroke="#707070" stroke-width="0.8"/>
<text x="542.9" y="272.66855812006554" font-family='"Liberation Serif", serif' font-size="12" fill="#262626" text-anchor="end" >2</text>
<text x="542.9" y="322.98415259188204" font-family='"Liberation Serif", serif' font-size="12" fill="#262626" text-anchor="end" >1.5</text>
<text x="542.9" y="393.9" font-family='"Liberation Serif", serif' font-size="12" fill="#262626" text-anchor="end" >1</text>
<text x="557.4" y="404.7" font-family='"Liberation Serif", serif' font-size="12" fill="#262626" text-anchor="middle" >34</text>
<text x="605.85" y="404.7" font-family='"Liberation Serif", serif' font-size="12" fill="#262626" text-anchor="middle" >35</text>
<text x="654.3" y="404.7" font-family='"Liberation Serif", serif' font-size="12" fill="#262626" text-anchor="middle" >36</text>
<circle cx="555.00" cy="309.00" r="2.45" fill="#9b9b9b"/>
<circle cx="572.70" cy="312.00" r="2.45" fill="#9b9b9b"/>
<circle cx="590.90" cy="313.20" r="2.45" fill="#9b9b9b"/>
<circle cx="609.50" cy="316.50" r="2.45" fill="#9b9b9b"/>
<circle cx="627.60" cy="325.10" r="2.45" fill="#9b9b9b"/>
<circle cx="646.20" cy="333.80" r="2.45" fill="#9b9b9b"/>
<circle cx="664.40" cy="340.00" r="2.45" fill="#9b9b9b"/>
<path d="M560.70 324.60L564.20 329.30L560.70 334.00L557.20 329.30Z" fill="#d0103a"/>
<path d="M579.30 339.80L582.80 344.50L579.30 349.20L575.80 344.50Z" fill="#d0103a"/>
<path d="M597.50 342.30L601.00 347.00L597.50 351.70L594.00 347.00Z" fill="#d0103a"/>
<path d="M615.70 355.10L619.20 359.80L615.70 364.50L612.20 359.80Z" fill="#d0103a"/>
<path d="M633.80 359.20L637.30 363.90L633.80 368.60L630.30 363.90Z" fill="#d0103a"/>
<path d="M652.40 363.00L655.90 367.70L652.40 372.40L648.90 367.70Z" fill="#d0103a"/>
<path d="M670.60 366.70L674.10 371.40L670.60 376.10L667.10 371.40Z" fill="#d0103a"/>
<text x="524" y="259.8" font-family='"Liberation Serif", serif' font-size="16" fill="#000" text-anchor="start" font-weight="bold">f</text>
<text transform="translate(525.3 325.2) rotate(-90)" font-family='"Liberation Sans", sans-serif' font-size="11.7" fill="#262626" text-anchor="middle"><tspan font-style="italic">g</tspan><tspan font-size="8" dy="-4.2">(2)</tspan><tspan dy="4.2">(0)</tspan></text>
<text x="608.8" y="420.9" font-family='"Liberation Sans", sans-serif' font-size="11.7" fill="#262626" text-anchor="middle" ><tspan font-style="italic">P</tspan> (mW)</text>
<text x="673.5" y="279.7" font-family='"Liberation Serif", serif' font-size="15" fill="#d2691e" text-anchor="end">2Ω<tspan font-size="8">0</tspan></text>
</svg>
</body></html>
